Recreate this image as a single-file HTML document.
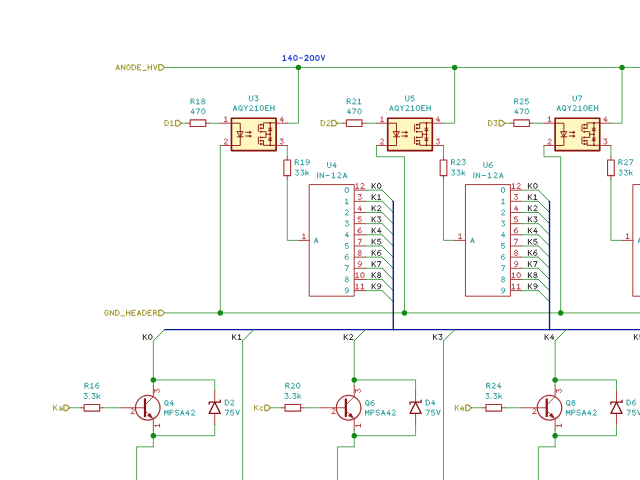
<!DOCTYPE html>
<html><head><meta charset="utf-8"><style>
html,body{margin:0;padding:0;background:#fff;width:640px;height:480px;overflow:hidden}
svg{display:block;will-change:transform}
</style></head><body>
<svg width="640" height="480" viewBox="0 0 640 480" stroke-linecap="round" stroke-linejoin="round">
<rect x="0" y="0" width="640" height="480" fill="#fff"/>
<line x1="164.5" y1="67.41" x2="640" y2="67.41" stroke="#288f28" stroke-width="0.8"/>
<polygon points="158.8,64.66 161.6,64.66 164.5,67.41 161.6,70.16 158.8,70.16" stroke="#9e9830" stroke-width="1.2" fill="none"/>
<path d="M116.10 69.81 L117.78 64.82 L119.46 69.81 M116.66 68.15 L118.90 68.15 M121.45 69.81 L121.45 64.82 L124.81 69.81 L124.81 64.82 M128.48 64.82 L129.57 65.23 L130.16 66.32 L130.16 68.31 L129.57 69.39 L128.48 69.81 L127.39 69.39 L126.80 68.31 L126.80 66.32 L127.39 65.23 L128.48 64.82 M132.15 64.82 L134.25 64.82 L135.51 66.07 L135.51 68.56 L134.25 69.81 L132.15 69.81 L132.15 64.82 M140.85 64.82 L137.49 64.82 L137.49 69.81 L140.85 69.81 M137.49 67.23 L139.85 67.23 M142.84 70.39 L146.20 70.39 M148.19 64.82 L148.19 69.81 M151.55 64.82 L151.55 69.81 M148.19 67.23 L151.55 67.23 M153.54 64.82 L155.22 69.81 L156.90 64.82" stroke="#9e9830" stroke-width="1.00" fill="none"/>
<line x1="164.5" y1="312.93" x2="640" y2="312.93" stroke="#288f28" stroke-width="0.8"/>
<polygon points="158.8,310.18 161.6,310.18 164.5,312.93 161.6,315.68 158.8,315.68" stroke="#9e9830" stroke-width="1.2" fill="none"/>
<path d="M108.26 311.34 L107.42 310.34 L105.91 310.34 L104.90 311.34 L104.90 314.33 L105.91 315.33 L107.25 315.33 L108.26 314.33 L108.26 313.00 L106.92 313.00 M110.30 315.33 L110.30 310.34 L113.66 315.33 L113.66 310.34 M115.71 310.34 L117.81 310.34 L119.07 311.59 L119.07 314.08 L117.81 315.33 L115.71 315.33 L115.71 310.34 M121.11 315.91 L124.47 315.91 M126.52 310.34 L126.52 315.33 M129.88 310.34 L129.88 315.33 M126.52 312.75 L129.88 312.75 M135.28 310.34 L131.92 310.34 L131.92 315.33 L135.28 315.33 M131.92 312.75 L134.27 312.75 M137.33 315.33 L139.01 310.34 L140.69 315.33 M137.89 313.67 L140.12 313.67 M142.73 310.34 L144.83 310.34 L146.09 311.59 L146.09 314.08 L144.83 315.33 L142.73 315.33 L142.73 310.34 M151.50 310.34 L148.14 310.34 L148.14 315.33 L151.50 315.33 M148.14 312.75 L150.49 312.75 M153.54 315.33 L153.54 310.34 L155.89 310.34 L156.90 311.34 L156.90 311.84 L155.89 312.83 L153.54 312.83 M155.39 312.83 L156.90 315.33" stroke="#9e9830" stroke-width="1.00" fill="none"/>
<path d="M283.22 56.41 L284.48 55.41 L284.48 60.40 M283.05 60.40 L285.91 60.40 M290.56 55.41 L288.29 58.82 L291.65 58.82 M290.81 57.32 L290.81 60.40 M295.46 55.41 L296.55 55.82 L297.14 56.91 L297.14 58.90 L296.55 59.98 L295.46 60.40 L294.37 59.98 L293.78 58.90 L293.78 56.91 L294.37 55.82 L295.46 55.41 M299.44 58.07 L302.47 58.07 M304.93 56.24 L305.77 55.41 L307.12 55.41 L307.96 56.24 L307.96 57.07 L304.77 60.40 L308.13 60.40 M311.94 55.41 L313.03 55.82 L313.62 56.91 L313.62 58.90 L313.03 59.98 L311.94 60.40 L310.85 59.98 L310.26 58.90 L310.26 56.91 L310.85 55.82 L311.94 55.41 M317.43 55.41 L318.52 55.82 L319.11 56.91 L319.11 58.90 L318.52 59.98 L317.43 60.40 L316.34 59.98 L315.75 58.90 L315.75 56.91 L316.34 55.82 L317.43 55.41 M321.24 55.41 L322.92 60.40 L324.60 55.41" stroke="#2a48d0" stroke-width="1.10" fill="none"/>
<polygon points="175.54,120.46 178.34,120.46 181.24,123.21 178.34,125.96 175.54,125.96" stroke="#9e9830" stroke-width="1.2" fill="none"/>
<path d="M164.96 120.62 L167.06 120.62 L168.32 121.87 L168.32 124.36 L167.06 125.61 L164.96 125.61 L164.96 120.62 M170.70 121.62 L171.96 120.62 L171.96 125.61 M170.53 125.61 L173.39 125.61" stroke="#9e9830" stroke-width="1.00" fill="none"/>
<line x1="181.24" y1="123.21" x2="186.82" y2="123.21" stroke="#288f28" stroke-width="0.8"/>
<line x1="186.81" y1="123.21" x2="190.18" y2="123.21" stroke="#b04040" stroke-width="1"/>
<line x1="205.78" y1="123.21" x2="209.15" y2="123.21" stroke="#b04040" stroke-width="1"/>
<rect x="190.18" y="119.86" width="15.6" height="6.7" stroke="#a83030" stroke-width="1.1" fill="none"/>
<path d="M190.98 103.90 L190.98 98.91 L193.33 98.91 L194.34 99.91 L194.34 100.41 L193.33 101.40 L190.98 101.40 M192.83 101.40 L194.34 103.90 M196.72 99.91 L197.98 98.91 L197.98 103.90 M196.55 103.90 L199.41 103.90 M202.63 101.32 L201.96 100.66 L201.96 99.57 L202.63 98.91 L203.97 98.91 L204.64 99.57 L204.64 100.66 L203.97 101.32 L202.63 101.32 L201.62 102.24 L201.62 103.07 L202.46 103.90 L204.14 103.90 L204.98 103.07 L204.98 102.24 L203.97 101.32" stroke="#36a0a0" stroke-width="1.00" fill="none"/>
<path d="M193.25 108.91 L190.98 112.32 L194.34 112.32 M193.50 110.82 L193.50 113.90 M196.30 108.91 L199.66 108.91 L197.39 113.90 M203.30 108.91 L204.39 109.32 L204.98 110.41 L204.98 112.40 L204.39 113.48 L203.30 113.90 L202.21 113.48 L201.62 112.40 L201.62 110.41 L202.21 109.32 L203.30 108.91" stroke="#36a0a0" stroke-width="1.00" fill="none"/>
<line x1="209.14" y1="123.21" x2="220.3" y2="123.21" stroke="#288f28" stroke-width="0.8"/>
<rect x="231.46" y="118.2" width="44.64" height="32.4" stroke="#8a1010" stroke-width="1.65" fill="#fff7c0"/>
<line x1="220.3" y1="123.21" x2="231.46" y2="123.21" stroke="#b04040" stroke-width="1"/>
<line x1="276.1" y1="123.21" x2="287.26" y2="123.21" stroke="#b04040" stroke-width="1"/>
<line x1="220.3" y1="145.53" x2="231.46" y2="145.53" stroke="#b04040" stroke-width="1"/>
<line x1="276.1" y1="145.53" x2="287.26" y2="145.53" stroke="#b04040" stroke-width="1"/>
<path d="M224.62 117.72 L225.88 116.72 L225.88 121.71 M224.45 121.71 L227.31 121.71" stroke="#bb4545" stroke-width="1.00" fill="none"/>
<path d="M224.37 139.87 L225.21 139.04 L226.55 139.04 L227.39 139.87 L227.39 140.70 L224.20 144.03 L227.56 144.03" stroke="#bb4545" stroke-width="1.00" fill="none"/>
<path d="M282.27 116.72 L280.00 120.13 L283.36 120.13 M282.52 118.63 L282.52 121.71" stroke="#bb4545" stroke-width="1.00" fill="none"/>
<path d="M280.17 139.04 L283.19 139.04 L281.51 141.12 L282.35 141.12 L283.28 141.95 L283.28 143.20 L282.35 144.03 L281.01 144.03 L280.08 143.20" stroke="#bb4545" stroke-width="1.00" fill="none"/>
<path d="M249.44 95.91 L249.44 99.90 L250.45 100.90 L251.79 100.90 L252.80 99.90 L252.80 95.91 M254.93 95.91 L257.95 95.91 L256.27 97.99 L257.11 97.99 L258.04 98.82 L258.04 100.07 L257.11 100.90 L255.77 100.90 L254.84 100.07" stroke="#36a0a0" stroke-width="1.00" fill="none"/>
<path d="M233.48 110.60 L235.16 105.61 L236.84 110.60 M234.04 108.94 L236.28 108.94 M240.48 105.61 L241.57 106.02 L242.16 107.11 L242.16 109.10 L241.57 110.18 L240.48 110.60 L239.39 110.18 L238.80 109.10 L238.80 107.11 L239.39 106.02 L240.48 105.61 M240.73 109.19 L242.33 111.02 M244.12 105.61 L245.80 108.10 L247.48 105.61 M245.80 108.10 L245.80 110.60 M249.61 106.44 L250.45 105.61 L251.79 105.61 L252.63 106.44 L252.63 107.27 L249.44 110.60 L252.80 110.60 M255.18 106.61 L256.44 105.61 L256.44 110.60 M255.01 110.60 L257.87 110.60 M261.76 105.61 L262.85 106.02 L263.44 107.11 L263.44 109.10 L262.85 110.18 L261.76 110.60 L260.67 110.18 L260.08 109.10 L260.08 107.11 L260.67 106.02 L261.76 105.61 M268.76 105.61 L265.40 105.61 L265.40 110.60 L268.76 110.60 M265.40 108.02 L267.75 108.02 M270.72 105.61 L270.72 110.60 M274.08 105.61 L274.08 110.60 M270.72 108.02 L274.08 108.02" stroke="#36a0a0" stroke-width="1.00" fill="none"/>
<polyline points="231.46,123.21 240.26,123.21 240.26,145.53 231.46,145.53" stroke="#8a1010" stroke-width="0.9" fill="none"/>
<polygon points="237.26,131.6 243.26,131.6 240.26,136.6" stroke="#8a1010" stroke-width="0.9" fill="none"/>
<line x1="237.26" y1="136.8" x2="243.26" y2="136.8" stroke="#8a1010" stroke-width="0.9"/>
<line x1="245.66" y1="132.3" x2="250.96" y2="132.3" stroke="#8a1010" stroke-width="0.9"/>
<polygon points="251.26,132.3 249.46,131.3 249.46,133.3" stroke="#8a1010" stroke-width="0.5" fill="#8a1010"/>
<line x1="245.66" y1="136" x2="250.96" y2="136" stroke="#8a1010" stroke-width="0.9"/>
<polygon points="251.26,136 249.46,135 249.46,137" stroke="#8a1010" stroke-width="0.5" fill="#8a1010"/>
<line x1="258.36" y1="124.7" x2="258.36" y2="131.3" stroke="#8a1010" stroke-width="0.9"/>
<line x1="258.36" y1="137" x2="258.36" y2="143.7" stroke="#8a1010" stroke-width="0.9"/>
<polyline points="260.56,124.7 263.46,124.7 263.46,122.9 276.1,122.9" stroke="#8a1010" stroke-width="0.9" fill="none"/>
<line x1="263.46" y1="124.7" x2="263.46" y2="128.3" stroke="#8a1010" stroke-width="0.9"/>
<line x1="260.56" y1="128.3" x2="263.46" y2="128.3" stroke="#8a1010" stroke-width="0.9"/>
<polyline points="260.56,131.7 266.06,131.7 266.06,137.4 260.56,137.4" stroke="#8a1010" stroke-width="0.9" fill="none"/>
<line x1="266.06" y1="134.3" x2="270.26" y2="134.3" stroke="#8a1010" stroke-width="0.9"/>
<line x1="260.56" y1="140.7" x2="263.46" y2="140.7" stroke="#8a1010" stroke-width="0.9"/>
<line x1="263.46" y1="140.7" x2="263.46" y2="144" stroke="#8a1010" stroke-width="0.9"/>
<polyline points="260.56,144 263.46,144 263.46,145.34 276.1,145.34" stroke="#8a1010" stroke-width="0.9" fill="none"/>
<line x1="270.26" y1="122.9" x2="270.26" y2="145.34" stroke="#8a1010" stroke-width="0.9"/>
<polygon points="268.56,130.9 271.96,130.9 270.26,128.4" stroke="#8a1010" stroke-width="0.5" fill="#8a1010"/>
<line x1="268.56" y1="128.2" x2="271.96" y2="128.2" stroke="#8a1010" stroke-width="0.8"/>
<polygon points="268.56,140.7 271.96,140.7 270.26,138.2" stroke="#8a1010" stroke-width="0.5" fill="#8a1010"/>
<line x1="268.56" y1="138" x2="271.96" y2="138" stroke="#8a1010" stroke-width="0.8"/>
<circle cx="260.56" cy="124.7" r="0.95" fill="#8a1010"/>
<circle cx="260.56" cy="128.3" r="0.95" fill="#8a1010"/>
<circle cx="260.56" cy="131.7" r="0.95" fill="#8a1010"/>
<circle cx="260.56" cy="137.4" r="0.95" fill="#8a1010"/>
<circle cx="260.56" cy="140.7" r="0.95" fill="#8a1010"/>
<circle cx="260.56" cy="144" r="0.95" fill="#8a1010"/>
<circle cx="270.26" cy="122.9" r="0.95" fill="#8a1010"/>
<circle cx="270.26" cy="134.3" r="0.95" fill="#8a1010"/>
<circle cx="270.26" cy="145.34" r="0.95" fill="#8a1010"/>
<polyline points="287.26,123.21 298.42,123.21 298.42,67.41" stroke="#288f28" stroke-width="0.8" fill="none"/>
<circle cx="298.42" cy="67.41" r="2.7" fill="#138a13"/>
<line x1="287.26" y1="145.53" x2="287.26" y2="156.69" stroke="#288f28" stroke-width="0.8"/>
<line x1="287.26" y1="156.68" x2="287.26" y2="160.05" stroke="#b04040" stroke-width="1"/>
<line x1="287.26" y1="175.65" x2="287.26" y2="179.02" stroke="#b04040" stroke-width="1"/>
<rect x="283.91" y="160.05" width="6.7" height="15.6" stroke="#a83030" stroke-width="1.1" fill="none"/>
<path d="M295.26 164.70 L295.26 159.71 L297.61 159.71 L298.62 160.71 L298.62 161.21 L297.61 162.20 L295.26 162.20 M297.11 162.20 L298.62 164.70 M301.00 160.71 L302.26 159.71 L302.26 164.70 M300.83 164.70 L303.69 164.70 M306.40 164.70 L307.58 164.70 L308.76 163.70 L309.26 162.20 L309.26 160.71 L308.25 159.71 L306.91 159.71 L305.90 160.71 L305.90 161.70 L306.91 162.54 L308.25 162.54 L309.26 161.70" stroke="#36a0a0" stroke-width="1.00" fill="none"/>
<path d="M295.43 170.11 L298.45 170.11 L296.77 172.19 L297.61 172.19 L298.54 173.02 L298.54 174.27 L297.61 175.10 L296.27 175.10 L295.34 174.27 M300.75 170.11 L303.77 170.11 L302.09 172.19 L302.93 172.19 L303.86 173.02 L303.86 174.27 L302.93 175.10 L301.59 175.10 L300.66 174.27 M305.90 170.11 L305.90 175.10 M305.90 173.60 L308.59 171.94 M306.91 172.94 L308.76 175.10" stroke="#36a0a0" stroke-width="1.00" fill="none"/>
<polyline points="287.26,179.01 287.26,240.39 298.42,240.39" stroke="#288f28" stroke-width="0.8" fill="none"/>
<line x1="220.3" y1="145.53" x2="220.3" y2="312.93" stroke="#288f28" stroke-width="0.8"/>
<circle cx="220.3" cy="312.93" r="2.7" fill="#138a13"/>
<rect x="309.58" y="184.59" width="44.64" height="111.6" stroke="#a02525" stroke-width="0.9" fill="none"/>
<line x1="298.42" y1="240.39" x2="309.58" y2="240.39" stroke="#b04040" stroke-width="1"/>
<path d="M302.74 234.65 L304.00 233.65 L304.00 238.64 M302.57 238.64 L305.43 238.64" stroke="#bb4545" stroke-width="1.00" fill="none"/>
<path d="M314.58 242.79 L316.26 237.80 L317.94 242.79 M315.14 241.13 L317.38 241.13" stroke="#36a0a0" stroke-width="1.00" fill="none"/>
<path d="M327.56 162.51 L327.56 166.50 L328.57 167.50 L329.91 167.50 L330.92 166.50 L330.92 162.51 M335.15 162.51 L332.88 165.92 L336.24 165.92 M335.40 164.42 L335.40 167.50" stroke="#36a0a0" stroke-width="1.00" fill="none"/>
<path d="M317.60 172.81 L317.60 177.80 M320.08 177.80 L320.08 172.81 L323.44 177.80 L323.44 172.81 M326.09 175.47 L329.11 175.47 M332.18 173.81 L333.44 172.81 L333.44 177.80 M332.01 177.80 L334.87 177.80 M337.77 173.64 L338.61 172.81 L339.95 172.81 L340.79 173.64 L340.79 174.47 L337.60 177.80 L340.96 177.80 M343.44 177.80 L345.12 172.81 L346.80 177.80 M344.00 176.14 L346.24 176.14" stroke="#36a0a0" stroke-width="1.00" fill="none"/>
<line x1="354.22" y1="190.17" x2="365.38" y2="190.17" stroke="#b04040" stroke-width="1"/>
<path d="M355.88 184.43 L357.14 183.43 L357.14 188.42 M355.71 188.42 L358.57 188.42 M360.95 184.26 L361.79 183.43 L363.13 183.43 L363.97 184.26 L363.97 185.09 L360.78 188.42 L364.14 188.42" stroke="#bb4545" stroke-width="1.00" fill="none"/>
<path d="M346.84 187.58 L347.93 187.99 L348.52 189.08 L348.52 191.07 L347.93 192.15 L346.84 192.57 L345.75 192.15 L345.16 191.07 L345.16 189.08 L345.75 187.99 L346.84 187.58" stroke="#36a0a0" stroke-width="1.00" fill="none"/>
<path d="M372.16 183.43 L372.16 188.42 M375.52 183.43 L372.16 186.76 M373.34 185.59 L375.52 188.42 M379.16 183.43 L380.25 183.84 L380.84 184.93 L380.84 186.92 L380.25 188.00 L379.16 188.42 L378.07 188.00 L377.48 186.92 L377.48 184.93 L378.07 183.84 L379.16 183.43" stroke="#303030" stroke-width="1.00" fill="none"/>
<line x1="365.38" y1="190.17" x2="382.12" y2="190.17" stroke="#288f28" stroke-width="0.8"/>
<line x1="382.12" y1="190.17" x2="393.28" y2="201.33" stroke="#288f28" stroke-width="1"/>
<line x1="354.22" y1="201.33" x2="365.38" y2="201.33" stroke="#b04040" stroke-width="1"/>
<path d="M358.29 194.59 L361.31 194.59 L359.63 196.67 L360.47 196.67 L361.40 197.50 L361.40 198.75 L360.47 199.58 L359.13 199.58 L358.20 198.75" stroke="#bb4545" stroke-width="1.00" fill="none"/>
<path d="M345.58 199.74 L346.84 198.74 L346.84 203.73 M345.41 203.73 L348.27 203.73" stroke="#36a0a0" stroke-width="1.00" fill="none"/>
<path d="M372.16 194.59 L372.16 199.58 M375.52 194.59 L372.16 197.92 M373.34 196.75 L375.52 199.58 M377.90 195.59 L379.16 194.59 L379.16 199.58 M377.73 199.58 L380.59 199.58" stroke="#303030" stroke-width="1.00" fill="none"/>
<line x1="365.38" y1="201.33" x2="382.12" y2="201.33" stroke="#288f28" stroke-width="0.8"/>
<line x1="382.12" y1="201.33" x2="393.28" y2="212.49" stroke="#288f28" stroke-width="1"/>
<line x1="354.22" y1="212.49" x2="365.38" y2="212.49" stroke="#b04040" stroke-width="1"/>
<path d="M360.39 205.75 L358.12 209.16 L361.48 209.16 M360.64 207.66 L360.64 210.74" stroke="#bb4545" stroke-width="1.00" fill="none"/>
<path d="M345.33 210.73 L346.17 209.90 L347.51 209.90 L348.35 210.73 L348.35 211.56 L345.16 214.89 L348.52 214.89" stroke="#36a0a0" stroke-width="1.00" fill="none"/>
<path d="M372.16 205.75 L372.16 210.74 M375.52 205.75 L372.16 209.08 M373.34 207.91 L375.52 210.74 M377.65 206.58 L378.49 205.75 L379.83 205.75 L380.67 206.58 L380.67 207.41 L377.48 210.74 L380.84 210.74" stroke="#303030" stroke-width="1.00" fill="none"/>
<line x1="365.38" y1="212.49" x2="382.12" y2="212.49" stroke="#288f28" stroke-width="0.8"/>
<line x1="382.12" y1="212.49" x2="393.28" y2="223.65" stroke="#288f28" stroke-width="1"/>
<line x1="354.22" y1="223.65" x2="365.38" y2="223.65" stroke="#b04040" stroke-width="1"/>
<path d="M361.14 216.91 L358.46 216.91 L358.20 219.24 L358.96 218.90 L360.47 218.90 L361.40 219.74 L361.40 221.07 L360.56 221.90 L359.04 221.90 L358.20 221.23" stroke="#bb4545" stroke-width="1.00" fill="none"/>
<path d="M345.33 221.06 L348.35 221.06 L346.67 223.14 L347.51 223.14 L348.44 223.97 L348.44 225.22 L347.51 226.05 L346.17 226.05 L345.24 225.22" stroke="#36a0a0" stroke-width="1.00" fill="none"/>
<path d="M372.16 216.91 L372.16 221.90 M375.52 216.91 L372.16 220.24 M373.34 219.07 L375.52 221.90 M377.65 216.91 L380.67 216.91 L378.99 218.99 L379.83 218.99 L380.76 219.82 L380.76 221.07 L379.83 221.90 L378.49 221.90 L377.56 221.07" stroke="#303030" stroke-width="1.00" fill="none"/>
<line x1="365.38" y1="223.65" x2="382.12" y2="223.65" stroke="#288f28" stroke-width="0.8"/>
<line x1="382.12" y1="223.65" x2="393.28" y2="234.81" stroke="#288f28" stroke-width="1"/>
<line x1="354.22" y1="234.81" x2="365.38" y2="234.81" stroke="#b04040" stroke-width="1"/>
<path d="M360.98 228.07 L359.80 228.07 L358.62 229.07 L358.12 230.56 L358.12 232.06 L359.13 233.06 L360.47 233.06 L361.48 232.06 L361.48 231.06 L360.47 230.23 L359.13 230.23 L358.12 231.06" stroke="#bb4545" stroke-width="1.00" fill="none"/>
<path d="M347.43 232.22 L345.16 235.63 L348.52 235.63 M347.68 234.13 L347.68 237.21" stroke="#36a0a0" stroke-width="1.00" fill="none"/>
<path d="M372.16 228.07 L372.16 233.06 M375.52 228.07 L372.16 231.40 M373.34 230.23 L375.52 233.06 M379.75 228.07 L377.48 231.48 L380.84 231.48 M380.00 229.98 L380.00 233.06" stroke="#303030" stroke-width="1.00" fill="none"/>
<line x1="365.38" y1="234.81" x2="382.12" y2="234.81" stroke="#288f28" stroke-width="0.8"/>
<line x1="382.12" y1="234.81" x2="393.28" y2="245.97" stroke="#288f28" stroke-width="1"/>
<line x1="354.22" y1="245.97" x2="365.38" y2="245.97" stroke="#b04040" stroke-width="1"/>
<path d="M358.12 239.23 L361.48 239.23 L359.21 244.22" stroke="#bb4545" stroke-width="1.00" fill="none"/>
<path d="M348.18 243.38 L345.50 243.38 L345.24 245.71 L346.00 245.37 L347.51 245.37 L348.44 246.21 L348.44 247.54 L347.60 248.37 L346.08 248.37 L345.24 247.70" stroke="#36a0a0" stroke-width="1.00" fill="none"/>
<path d="M372.16 239.23 L372.16 244.22 M375.52 239.23 L372.16 242.56 M373.34 241.39 L375.52 244.22 M380.50 239.23 L377.82 239.23 L377.56 241.56 L378.32 241.22 L379.83 241.22 L380.76 242.06 L380.76 243.39 L379.92 244.22 L378.40 244.22 L377.56 243.55" stroke="#303030" stroke-width="1.00" fill="none"/>
<line x1="365.38" y1="245.97" x2="382.12" y2="245.97" stroke="#288f28" stroke-width="0.8"/>
<line x1="382.12" y1="245.97" x2="393.28" y2="257.13" stroke="#288f28" stroke-width="1"/>
<line x1="354.22" y1="257.13" x2="365.38" y2="257.13" stroke="#b04040" stroke-width="1"/>
<path d="M359.13 252.80 L358.46 252.14 L358.46 251.05 L359.13 250.39 L360.47 250.39 L361.14 251.05 L361.14 252.14 L360.47 252.80 L359.13 252.80 L358.12 253.72 L358.12 254.55 L358.96 255.38 L360.64 255.38 L361.48 254.55 L361.48 253.72 L360.47 252.80" stroke="#bb4545" stroke-width="1.00" fill="none"/>
<path d="M348.02 254.54 L346.84 254.54 L345.66 255.54 L345.16 257.03 L345.16 258.53 L346.17 259.53 L347.51 259.53 L348.52 258.53 L348.52 257.53 L347.51 256.70 L346.17 256.70 L345.16 257.53" stroke="#36a0a0" stroke-width="1.00" fill="none"/>
<path d="M372.16 250.39 L372.16 255.38 M375.52 250.39 L372.16 253.72 M373.34 252.55 L375.52 255.38 M380.34 250.39 L379.16 250.39 L377.98 251.39 L377.48 252.88 L377.48 254.38 L378.49 255.38 L379.83 255.38 L380.84 254.38 L380.84 253.38 L379.83 252.55 L378.49 252.55 L377.48 253.38" stroke="#303030" stroke-width="1.00" fill="none"/>
<line x1="365.38" y1="257.13" x2="382.12" y2="257.13" stroke="#288f28" stroke-width="0.8"/>
<line x1="382.12" y1="257.13" x2="393.28" y2="268.29" stroke="#288f28" stroke-width="1"/>
<line x1="354.22" y1="268.29" x2="365.38" y2="268.29" stroke="#b04040" stroke-width="1"/>
<path d="M358.62 266.54 L359.80 266.54 L360.98 265.54 L361.48 264.04 L361.48 262.55 L360.47 261.55 L359.13 261.55 L358.12 262.55 L358.12 263.54 L359.13 264.38 L360.47 264.38 L361.48 263.54" stroke="#bb4545" stroke-width="1.00" fill="none"/>
<path d="M345.16 265.70 L348.52 265.70 L346.25 270.69" stroke="#36a0a0" stroke-width="1.00" fill="none"/>
<path d="M372.16 261.55 L372.16 266.54 M375.52 261.55 L372.16 264.88 M373.34 263.71 L375.52 266.54 M377.48 261.55 L380.84 261.55 L378.57 266.54" stroke="#303030" stroke-width="1.00" fill="none"/>
<line x1="365.38" y1="268.29" x2="382.12" y2="268.29" stroke="#288f28" stroke-width="0.8"/>
<line x1="382.12" y1="268.29" x2="393.28" y2="279.45" stroke="#288f28" stroke-width="1"/>
<line x1="354.22" y1="279.45" x2="365.38" y2="279.45" stroke="#b04040" stroke-width="1"/>
<path d="M355.88 273.71 L357.14 272.71 L357.14 277.70 M355.71 277.70 L358.57 277.70 M362.46 272.71 L363.55 273.12 L364.14 274.21 L364.14 276.20 L363.55 277.28 L362.46 277.70 L361.37 277.28 L360.78 276.20 L360.78 274.21 L361.37 273.12 L362.46 272.71" stroke="#bb4545" stroke-width="1.00" fill="none"/>
<path d="M346.17 279.27 L345.50 278.61 L345.50 277.52 L346.17 276.86 L347.51 276.86 L348.18 277.52 L348.18 278.61 L347.51 279.27 L346.17 279.27 L345.16 280.19 L345.16 281.02 L346.00 281.85 L347.68 281.85 L348.52 281.02 L348.52 280.19 L347.51 279.27" stroke="#36a0a0" stroke-width="1.00" fill="none"/>
<path d="M372.16 272.71 L372.16 277.70 M375.52 272.71 L372.16 276.04 M373.34 274.87 L375.52 277.70 M378.49 275.12 L377.82 274.46 L377.82 273.37 L378.49 272.71 L379.83 272.71 L380.50 273.37 L380.50 274.46 L379.83 275.12 L378.49 275.12 L377.48 276.04 L377.48 276.87 L378.32 277.70 L380.00 277.70 L380.84 276.87 L380.84 276.04 L379.83 275.12" stroke="#303030" stroke-width="1.00" fill="none"/>
<line x1="365.38" y1="279.45" x2="382.12" y2="279.45" stroke="#288f28" stroke-width="0.8"/>
<line x1="382.12" y1="279.45" x2="393.28" y2="290.61" stroke="#288f28" stroke-width="1"/>
<line x1="354.22" y1="290.61" x2="365.38" y2="290.61" stroke="#b04040" stroke-width="1"/>
<path d="M355.88 284.87 L357.14 283.87 L357.14 288.86 M355.71 288.86 L358.57 288.86 M361.20 284.87 L362.46 283.87 L362.46 288.86 M361.03 288.86 L363.89 288.86" stroke="#bb4545" stroke-width="1.00" fill="none"/>
<path d="M345.66 293.01 L346.84 293.01 L348.02 292.01 L348.52 290.51 L348.52 289.02 L347.51 288.02 L346.17 288.02 L345.16 289.02 L345.16 290.01 L346.17 290.85 L347.51 290.85 L348.52 290.01" stroke="#36a0a0" stroke-width="1.00" fill="none"/>
<path d="M372.16 283.87 L372.16 288.86 M375.52 283.87 L372.16 287.20 M373.34 286.03 L375.52 288.86 M377.98 288.86 L379.16 288.86 L380.34 287.86 L380.84 286.36 L380.84 284.87 L379.83 283.87 L378.49 283.87 L377.48 284.87 L377.48 285.86 L378.49 286.70 L379.83 286.70 L380.84 285.86" stroke="#303030" stroke-width="1.00" fill="none"/>
<line x1="365.38" y1="290.61" x2="382.12" y2="290.61" stroke="#288f28" stroke-width="0.8"/>
<line x1="382.12" y1="290.61" x2="393.28" y2="301.77" stroke="#288f28" stroke-width="1"/>
<line x1="393.28" y1="201.33" x2="393.28" y2="329.67" stroke="#001aa0" stroke-width="1.35"/>
<polygon points="331.78,120.46 334.58,120.46 337.48,123.21 334.58,125.96 331.78,125.96" stroke="#9e9830" stroke-width="1.2" fill="none"/>
<path d="M321.20 120.62 L323.30 120.62 L324.56 121.87 L324.56 124.36 L323.30 125.61 L321.20 125.61 L321.20 120.62 M326.69 121.45 L327.53 120.62 L328.87 120.62 L329.71 121.45 L329.71 122.28 L326.52 125.61 L329.88 125.61" stroke="#9e9830" stroke-width="1.00" fill="none"/>
<line x1="337.48" y1="123.21" x2="343.06" y2="123.21" stroke="#288f28" stroke-width="0.8"/>
<line x1="343.05" y1="123.21" x2="346.42" y2="123.21" stroke="#b04040" stroke-width="1"/>
<line x1="362.02" y1="123.21" x2="365.39" y2="123.21" stroke="#b04040" stroke-width="1"/>
<rect x="346.42" y="119.86" width="15.6" height="6.7" stroke="#a83030" stroke-width="1.1" fill="none"/>
<path d="M347.22 103.90 L347.22 98.91 L349.57 98.91 L350.58 99.91 L350.58 100.41 L349.57 101.40 L347.22 101.40 M349.07 101.40 L350.58 103.90 M352.71 99.74 L353.55 98.91 L354.89 98.91 L355.73 99.74 L355.73 100.57 L352.54 103.90 L355.90 103.90 M358.28 99.91 L359.54 98.91 L359.54 103.90 M358.11 103.90 L360.97 103.90" stroke="#36a0a0" stroke-width="1.00" fill="none"/>
<path d="M349.49 108.91 L347.22 112.32 L350.58 112.32 M349.74 110.82 L349.74 113.90 M352.54 108.91 L355.90 108.91 L353.63 113.90 M359.54 108.91 L360.63 109.32 L361.22 110.41 L361.22 112.40 L360.63 113.48 L359.54 113.90 L358.45 113.48 L357.86 112.40 L357.86 110.41 L358.45 109.32 L359.54 108.91" stroke="#36a0a0" stroke-width="1.00" fill="none"/>
<line x1="365.38" y1="123.21" x2="376.54" y2="123.21" stroke="#288f28" stroke-width="0.8"/>
<rect x="387.7" y="118.2" width="44.64" height="32.4" stroke="#8a1010" stroke-width="1.65" fill="#fff7c0"/>
<line x1="376.54" y1="123.21" x2="387.7" y2="123.21" stroke="#b04040" stroke-width="1"/>
<line x1="432.34" y1="123.21" x2="443.5" y2="123.21" stroke="#b04040" stroke-width="1"/>
<line x1="376.54" y1="145.53" x2="387.7" y2="145.53" stroke="#b04040" stroke-width="1"/>
<line x1="432.34" y1="145.53" x2="443.5" y2="145.53" stroke="#b04040" stroke-width="1"/>
<path d="M380.86 117.72 L382.12 116.72 L382.12 121.71 M380.69 121.71 L383.55 121.71" stroke="#bb4545" stroke-width="1.00" fill="none"/>
<path d="M380.61 139.87 L381.45 139.04 L382.79 139.04 L383.63 139.87 L383.63 140.70 L380.44 144.03 L383.80 144.03" stroke="#bb4545" stroke-width="1.00" fill="none"/>
<path d="M438.51 116.72 L436.24 120.13 L439.60 120.13 M438.76 118.63 L438.76 121.71" stroke="#bb4545" stroke-width="1.00" fill="none"/>
<path d="M436.41 139.04 L439.43 139.04 L437.75 141.12 L438.59 141.12 L439.52 141.95 L439.52 143.20 L438.59 144.03 L437.25 144.03 L436.32 143.20" stroke="#bb4545" stroke-width="1.00" fill="none"/>
<path d="M405.68 95.91 L405.68 99.90 L406.69 100.90 L408.03 100.90 L409.04 99.90 L409.04 95.91 M414.02 95.91 L411.34 95.91 L411.08 98.24 L411.84 97.90 L413.35 97.90 L414.28 98.74 L414.28 100.07 L413.44 100.90 L411.92 100.90 L411.08 100.23" stroke="#36a0a0" stroke-width="1.00" fill="none"/>
<path d="M389.72 110.60 L391.40 105.61 L393.08 110.60 M390.28 108.94 L392.52 108.94 M396.72 105.61 L397.81 106.02 L398.40 107.11 L398.40 109.10 L397.81 110.18 L396.72 110.60 L395.63 110.18 L395.04 109.10 L395.04 107.11 L395.63 106.02 L396.72 105.61 M396.97 109.19 L398.57 111.02 M400.36 105.61 L402.04 108.10 L403.72 105.61 M402.04 108.10 L402.04 110.60 M405.85 106.44 L406.69 105.61 L408.03 105.61 L408.87 106.44 L408.87 107.27 L405.68 110.60 L409.04 110.60 M411.42 106.61 L412.68 105.61 L412.68 110.60 M411.25 110.60 L414.11 110.60 M418.00 105.61 L419.09 106.02 L419.68 107.11 L419.68 109.10 L419.09 110.18 L418.00 110.60 L416.91 110.18 L416.32 109.10 L416.32 107.11 L416.91 106.02 L418.00 105.61 M425.00 105.61 L421.64 105.61 L421.64 110.60 L425.00 110.60 M421.64 108.02 L423.99 108.02 M426.96 105.61 L426.96 110.60 M430.32 105.61 L430.32 110.60 M426.96 108.02 L430.32 108.02" stroke="#36a0a0" stroke-width="1.00" fill="none"/>
<polyline points="387.7,123.21 396.5,123.21 396.5,145.53 387.7,145.53" stroke="#8a1010" stroke-width="0.9" fill="none"/>
<polygon points="393.5,131.6 399.5,131.6 396.5,136.6" stroke="#8a1010" stroke-width="0.9" fill="none"/>
<line x1="393.5" y1="136.8" x2="399.5" y2="136.8" stroke="#8a1010" stroke-width="0.9"/>
<line x1="401.9" y1="132.3" x2="407.2" y2="132.3" stroke="#8a1010" stroke-width="0.9"/>
<polygon points="407.5,132.3 405.7,131.3 405.7,133.3" stroke="#8a1010" stroke-width="0.5" fill="#8a1010"/>
<line x1="401.9" y1="136" x2="407.2" y2="136" stroke="#8a1010" stroke-width="0.9"/>
<polygon points="407.5,136 405.7,135 405.7,137" stroke="#8a1010" stroke-width="0.5" fill="#8a1010"/>
<line x1="414.6" y1="124.7" x2="414.6" y2="131.3" stroke="#8a1010" stroke-width="0.9"/>
<line x1="414.6" y1="137" x2="414.6" y2="143.7" stroke="#8a1010" stroke-width="0.9"/>
<polyline points="416.8,124.7 419.7,124.7 419.7,122.9 432.34,122.9" stroke="#8a1010" stroke-width="0.9" fill="none"/>
<line x1="419.7" y1="124.7" x2="419.7" y2="128.3" stroke="#8a1010" stroke-width="0.9"/>
<line x1="416.8" y1="128.3" x2="419.7" y2="128.3" stroke="#8a1010" stroke-width="0.9"/>
<polyline points="416.8,131.7 422.3,131.7 422.3,137.4 416.8,137.4" stroke="#8a1010" stroke-width="0.9" fill="none"/>
<line x1="422.3" y1="134.3" x2="426.5" y2="134.3" stroke="#8a1010" stroke-width="0.9"/>
<line x1="416.8" y1="140.7" x2="419.7" y2="140.7" stroke="#8a1010" stroke-width="0.9"/>
<line x1="419.7" y1="140.7" x2="419.7" y2="144" stroke="#8a1010" stroke-width="0.9"/>
<polyline points="416.8,144 419.7,144 419.7,145.34 432.34,145.34" stroke="#8a1010" stroke-width="0.9" fill="none"/>
<line x1="426.5" y1="122.9" x2="426.5" y2="145.34" stroke="#8a1010" stroke-width="0.9"/>
<polygon points="424.8,130.9 428.2,130.9 426.5,128.4" stroke="#8a1010" stroke-width="0.5" fill="#8a1010"/>
<line x1="424.8" y1="128.2" x2="428.2" y2="128.2" stroke="#8a1010" stroke-width="0.8"/>
<polygon points="424.8,140.7 428.2,140.7 426.5,138.2" stroke="#8a1010" stroke-width="0.5" fill="#8a1010"/>
<line x1="424.8" y1="138" x2="428.2" y2="138" stroke="#8a1010" stroke-width="0.8"/>
<circle cx="416.8" cy="124.7" r="0.95" fill="#8a1010"/>
<circle cx="416.8" cy="128.3" r="0.95" fill="#8a1010"/>
<circle cx="416.8" cy="131.7" r="0.95" fill="#8a1010"/>
<circle cx="416.8" cy="137.4" r="0.95" fill="#8a1010"/>
<circle cx="416.8" cy="140.7" r="0.95" fill="#8a1010"/>
<circle cx="416.8" cy="144" r="0.95" fill="#8a1010"/>
<circle cx="426.5" cy="122.9" r="0.95" fill="#8a1010"/>
<circle cx="426.5" cy="134.3" r="0.95" fill="#8a1010"/>
<circle cx="426.5" cy="145.34" r="0.95" fill="#8a1010"/>
<polyline points="443.5,123.21 454.66,123.21 454.66,67.41" stroke="#288f28" stroke-width="0.8" fill="none"/>
<circle cx="454.66" cy="67.41" r="2.7" fill="#138a13"/>
<line x1="443.5" y1="145.53" x2="443.5" y2="156.69" stroke="#288f28" stroke-width="0.8"/>
<line x1="443.5" y1="156.68" x2="443.5" y2="160.05" stroke="#b04040" stroke-width="1"/>
<line x1="443.5" y1="175.65" x2="443.5" y2="179.02" stroke="#b04040" stroke-width="1"/>
<rect x="440.15" y="160.05" width="6.7" height="15.6" stroke="#a83030" stroke-width="1.1" fill="none"/>
<path d="M451.50 164.70 L451.50 159.71 L453.85 159.71 L454.86 160.71 L454.86 161.21 L453.85 162.20 L451.50 162.20 M453.35 162.20 L454.86 164.70 M456.99 160.54 L457.83 159.71 L459.17 159.71 L460.01 160.54 L460.01 161.37 L456.82 164.70 L460.18 164.70 M462.31 159.71 L465.33 159.71 L463.65 161.79 L464.49 161.79 L465.42 162.62 L465.42 163.87 L464.49 164.70 L463.15 164.70 L462.22 163.87" stroke="#36a0a0" stroke-width="1.00" fill="none"/>
<path d="M451.67 170.11 L454.69 170.11 L453.01 172.19 L453.85 172.19 L454.78 173.02 L454.78 174.27 L453.85 175.10 L452.51 175.10 L451.58 174.27 M456.99 170.11 L460.01 170.11 L458.33 172.19 L459.17 172.19 L460.10 173.02 L460.10 174.27 L459.17 175.10 L457.83 175.10 L456.90 174.27 M462.14 170.11 L462.14 175.10 M462.14 173.60 L464.83 171.94 M463.15 172.94 L465.00 175.10" stroke="#36a0a0" stroke-width="1.00" fill="none"/>
<polyline points="443.5,179.01 443.5,240.39 454.66,240.39" stroke="#288f28" stroke-width="0.8" fill="none"/>
<polyline points="376.54,145.53 376.54,156.69 404.44,156.69 404.44,312.93" stroke="#288f28" stroke-width="0.8" fill="none"/>
<circle cx="404.44" cy="312.93" r="2.7" fill="#138a13"/>
<rect x="465.82" y="184.59" width="44.64" height="111.6" stroke="#a02525" stroke-width="0.9" fill="none"/>
<line x1="454.66" y1="240.39" x2="465.82" y2="240.39" stroke="#b04040" stroke-width="1"/>
<path d="M458.98 234.65 L460.24 233.65 L460.24 238.64 M458.81 238.64 L461.67 238.64" stroke="#bb4545" stroke-width="1.00" fill="none"/>
<path d="M470.82 242.79 L472.50 237.80 L474.18 242.79 M471.38 241.13 L473.62 241.13" stroke="#36a0a0" stroke-width="1.00" fill="none"/>
<path d="M483.80 162.51 L483.80 166.50 L484.81 167.50 L486.15 167.50 L487.16 166.50 L487.16 162.51 M491.98 162.51 L490.80 162.51 L489.62 163.51 L489.12 165.00 L489.12 166.50 L490.13 167.50 L491.47 167.50 L492.48 166.50 L492.48 165.50 L491.47 164.67 L490.13 164.67 L489.12 165.50" stroke="#36a0a0" stroke-width="1.00" fill="none"/>
<path d="M473.84 172.81 L473.84 177.80 M476.32 177.80 L476.32 172.81 L479.68 177.80 L479.68 172.81 M482.33 175.47 L485.35 175.47 M488.42 173.81 L489.68 172.81 L489.68 177.80 M488.25 177.80 L491.11 177.80 M494.01 173.64 L494.85 172.81 L496.19 172.81 L497.03 173.64 L497.03 174.47 L493.84 177.80 L497.20 177.80 M499.68 177.80 L501.36 172.81 L503.04 177.80 M500.24 176.14 L502.48 176.14" stroke="#36a0a0" stroke-width="1.00" fill="none"/>
<line x1="510.46" y1="190.17" x2="521.62" y2="190.17" stroke="#b04040" stroke-width="1"/>
<path d="M512.12 184.43 L513.38 183.43 L513.38 188.42 M511.95 188.42 L514.81 188.42 M517.19 184.26 L518.03 183.43 L519.37 183.43 L520.21 184.26 L520.21 185.09 L517.02 188.42 L520.38 188.42" stroke="#bb4545" stroke-width="1.00" fill="none"/>
<path d="M503.08 187.58 L504.17 187.99 L504.76 189.08 L504.76 191.07 L504.17 192.15 L503.08 192.57 L501.99 192.15 L501.40 191.07 L501.40 189.08 L501.99 187.99 L503.08 187.58" stroke="#36a0a0" stroke-width="1.00" fill="none"/>
<path d="M528.40 183.43 L528.40 188.42 M531.76 183.43 L528.40 186.76 M529.58 185.59 L531.76 188.42 M535.40 183.43 L536.49 183.84 L537.08 184.93 L537.08 186.92 L536.49 188.00 L535.40 188.42 L534.31 188.00 L533.72 186.92 L533.72 184.93 L534.31 183.84 L535.40 183.43" stroke="#303030" stroke-width="1.00" fill="none"/>
<line x1="521.62" y1="190.17" x2="538.36" y2="190.17" stroke="#288f28" stroke-width="0.8"/>
<line x1="538.36" y1="190.17" x2="549.52" y2="201.33" stroke="#288f28" stroke-width="1"/>
<line x1="510.46" y1="201.33" x2="521.62" y2="201.33" stroke="#b04040" stroke-width="1"/>
<path d="M514.53 194.59 L517.55 194.59 L515.87 196.67 L516.71 196.67 L517.64 197.50 L517.64 198.75 L516.71 199.58 L515.37 199.58 L514.44 198.75" stroke="#bb4545" stroke-width="1.00" fill="none"/>
<path d="M501.82 199.74 L503.08 198.74 L503.08 203.73 M501.65 203.73 L504.51 203.73" stroke="#36a0a0" stroke-width="1.00" fill="none"/>
<path d="M528.40 194.59 L528.40 199.58 M531.76 194.59 L528.40 197.92 M529.58 196.75 L531.76 199.58 M534.14 195.59 L535.40 194.59 L535.40 199.58 M533.97 199.58 L536.83 199.58" stroke="#303030" stroke-width="1.00" fill="none"/>
<line x1="521.62" y1="201.33" x2="538.36" y2="201.33" stroke="#288f28" stroke-width="0.8"/>
<line x1="538.36" y1="201.33" x2="549.52" y2="212.49" stroke="#288f28" stroke-width="1"/>
<line x1="510.46" y1="212.49" x2="521.62" y2="212.49" stroke="#b04040" stroke-width="1"/>
<path d="M516.63 205.75 L514.36 209.16 L517.72 209.16 M516.88 207.66 L516.88 210.74" stroke="#bb4545" stroke-width="1.00" fill="none"/>
<path d="M501.57 210.73 L502.41 209.90 L503.75 209.90 L504.59 210.73 L504.59 211.56 L501.40 214.89 L504.76 214.89" stroke="#36a0a0" stroke-width="1.00" fill="none"/>
<path d="M528.40 205.75 L528.40 210.74 M531.76 205.75 L528.40 209.08 M529.58 207.91 L531.76 210.74 M533.89 206.58 L534.73 205.75 L536.07 205.75 L536.91 206.58 L536.91 207.41 L533.72 210.74 L537.08 210.74" stroke="#303030" stroke-width="1.00" fill="none"/>
<line x1="521.62" y1="212.49" x2="538.36" y2="212.49" stroke="#288f28" stroke-width="0.8"/>
<line x1="538.36" y1="212.49" x2="549.52" y2="223.65" stroke="#288f28" stroke-width="1"/>
<line x1="510.46" y1="223.65" x2="521.62" y2="223.65" stroke="#b04040" stroke-width="1"/>
<path d="M517.38 216.91 L514.70 216.91 L514.44 219.24 L515.20 218.90 L516.71 218.90 L517.64 219.74 L517.64 221.07 L516.80 221.90 L515.28 221.90 L514.44 221.23" stroke="#bb4545" stroke-width="1.00" fill="none"/>
<path d="M501.57 221.06 L504.59 221.06 L502.91 223.14 L503.75 223.14 L504.68 223.97 L504.68 225.22 L503.75 226.05 L502.41 226.05 L501.48 225.22" stroke="#36a0a0" stroke-width="1.00" fill="none"/>
<path d="M528.40 216.91 L528.40 221.90 M531.76 216.91 L528.40 220.24 M529.58 219.07 L531.76 221.90 M533.89 216.91 L536.91 216.91 L535.23 218.99 L536.07 218.99 L537.00 219.82 L537.00 221.07 L536.07 221.90 L534.73 221.90 L533.80 221.07" stroke="#303030" stroke-width="1.00" fill="none"/>
<line x1="521.62" y1="223.65" x2="538.36" y2="223.65" stroke="#288f28" stroke-width="0.8"/>
<line x1="538.36" y1="223.65" x2="549.52" y2="234.81" stroke="#288f28" stroke-width="1"/>
<line x1="510.46" y1="234.81" x2="521.62" y2="234.81" stroke="#b04040" stroke-width="1"/>
<path d="M517.22 228.07 L516.04 228.07 L514.86 229.07 L514.36 230.56 L514.36 232.06 L515.37 233.06 L516.71 233.06 L517.72 232.06 L517.72 231.06 L516.71 230.23 L515.37 230.23 L514.36 231.06" stroke="#bb4545" stroke-width="1.00" fill="none"/>
<path d="M503.67 232.22 L501.40 235.63 L504.76 235.63 M503.92 234.13 L503.92 237.21" stroke="#36a0a0" stroke-width="1.00" fill="none"/>
<path d="M528.40 228.07 L528.40 233.06 M531.76 228.07 L528.40 231.40 M529.58 230.23 L531.76 233.06 M535.99 228.07 L533.72 231.48 L537.08 231.48 M536.24 229.98 L536.24 233.06" stroke="#303030" stroke-width="1.00" fill="none"/>
<line x1="521.62" y1="234.81" x2="538.36" y2="234.81" stroke="#288f28" stroke-width="0.8"/>
<line x1="538.36" y1="234.81" x2="549.52" y2="245.97" stroke="#288f28" stroke-width="1"/>
<line x1="510.46" y1="245.97" x2="521.62" y2="245.97" stroke="#b04040" stroke-width="1"/>
<path d="M514.36 239.23 L517.72 239.23 L515.45 244.22" stroke="#bb4545" stroke-width="1.00" fill="none"/>
<path d="M504.42 243.38 L501.74 243.38 L501.48 245.71 L502.24 245.37 L503.75 245.37 L504.68 246.21 L504.68 247.54 L503.84 248.37 L502.32 248.37 L501.48 247.70" stroke="#36a0a0" stroke-width="1.00" fill="none"/>
<path d="M528.40 239.23 L528.40 244.22 M531.76 239.23 L528.40 242.56 M529.58 241.39 L531.76 244.22 M536.74 239.23 L534.06 239.23 L533.80 241.56 L534.56 241.22 L536.07 241.22 L537.00 242.06 L537.00 243.39 L536.16 244.22 L534.64 244.22 L533.80 243.55" stroke="#303030" stroke-width="1.00" fill="none"/>
<line x1="521.62" y1="245.97" x2="538.36" y2="245.97" stroke="#288f28" stroke-width="0.8"/>
<line x1="538.36" y1="245.97" x2="549.52" y2="257.13" stroke="#288f28" stroke-width="1"/>
<line x1="510.46" y1="257.13" x2="521.62" y2="257.13" stroke="#b04040" stroke-width="1"/>
<path d="M515.37 252.80 L514.70 252.14 L514.70 251.05 L515.37 250.39 L516.71 250.39 L517.38 251.05 L517.38 252.14 L516.71 252.80 L515.37 252.80 L514.36 253.72 L514.36 254.55 L515.20 255.38 L516.88 255.38 L517.72 254.55 L517.72 253.72 L516.71 252.80" stroke="#bb4545" stroke-width="1.00" fill="none"/>
<path d="M504.26 254.54 L503.08 254.54 L501.90 255.54 L501.40 257.03 L501.40 258.53 L502.41 259.53 L503.75 259.53 L504.76 258.53 L504.76 257.53 L503.75 256.70 L502.41 256.70 L501.40 257.53" stroke="#36a0a0" stroke-width="1.00" fill="none"/>
<path d="M528.40 250.39 L528.40 255.38 M531.76 250.39 L528.40 253.72 M529.58 252.55 L531.76 255.38 M536.58 250.39 L535.40 250.39 L534.22 251.39 L533.72 252.88 L533.72 254.38 L534.73 255.38 L536.07 255.38 L537.08 254.38 L537.08 253.38 L536.07 252.55 L534.73 252.55 L533.72 253.38" stroke="#303030" stroke-width="1.00" fill="none"/>
<line x1="521.62" y1="257.13" x2="538.36" y2="257.13" stroke="#288f28" stroke-width="0.8"/>
<line x1="538.36" y1="257.13" x2="549.52" y2="268.29" stroke="#288f28" stroke-width="1"/>
<line x1="510.46" y1="268.29" x2="521.62" y2="268.29" stroke="#b04040" stroke-width="1"/>
<path d="M514.86 266.54 L516.04 266.54 L517.22 265.54 L517.72 264.04 L517.72 262.55 L516.71 261.55 L515.37 261.55 L514.36 262.55 L514.36 263.54 L515.37 264.38 L516.71 264.38 L517.72 263.54" stroke="#bb4545" stroke-width="1.00" fill="none"/>
<path d="M501.40 265.70 L504.76 265.70 L502.49 270.69" stroke="#36a0a0" stroke-width="1.00" fill="none"/>
<path d="M528.40 261.55 L528.40 266.54 M531.76 261.55 L528.40 264.88 M529.58 263.71 L531.76 266.54 M533.72 261.55 L537.08 261.55 L534.81 266.54" stroke="#303030" stroke-width="1.00" fill="none"/>
<line x1="521.62" y1="268.29" x2="538.36" y2="268.29" stroke="#288f28" stroke-width="0.8"/>
<line x1="538.36" y1="268.29" x2="549.52" y2="279.45" stroke="#288f28" stroke-width="1"/>
<line x1="510.46" y1="279.45" x2="521.62" y2="279.45" stroke="#b04040" stroke-width="1"/>
<path d="M512.12 273.71 L513.38 272.71 L513.38 277.70 M511.95 277.70 L514.81 277.70 M518.70 272.71 L519.79 273.12 L520.38 274.21 L520.38 276.20 L519.79 277.28 L518.70 277.70 L517.61 277.28 L517.02 276.20 L517.02 274.21 L517.61 273.12 L518.70 272.71" stroke="#bb4545" stroke-width="1.00" fill="none"/>
<path d="M502.41 279.27 L501.74 278.61 L501.74 277.52 L502.41 276.86 L503.75 276.86 L504.42 277.52 L504.42 278.61 L503.75 279.27 L502.41 279.27 L501.40 280.19 L501.40 281.02 L502.24 281.85 L503.92 281.85 L504.76 281.02 L504.76 280.19 L503.75 279.27" stroke="#36a0a0" stroke-width="1.00" fill="none"/>
<path d="M528.40 272.71 L528.40 277.70 M531.76 272.71 L528.40 276.04 M529.58 274.87 L531.76 277.70 M534.73 275.12 L534.06 274.46 L534.06 273.37 L534.73 272.71 L536.07 272.71 L536.74 273.37 L536.74 274.46 L536.07 275.12 L534.73 275.12 L533.72 276.04 L533.72 276.87 L534.56 277.70 L536.24 277.70 L537.08 276.87 L537.08 276.04 L536.07 275.12" stroke="#303030" stroke-width="1.00" fill="none"/>
<line x1="521.62" y1="279.45" x2="538.36" y2="279.45" stroke="#288f28" stroke-width="0.8"/>
<line x1="538.36" y1="279.45" x2="549.52" y2="290.61" stroke="#288f28" stroke-width="1"/>
<line x1="510.46" y1="290.61" x2="521.62" y2="290.61" stroke="#b04040" stroke-width="1"/>
<path d="M512.12 284.87 L513.38 283.87 L513.38 288.86 M511.95 288.86 L514.81 288.86 M517.44 284.87 L518.70 283.87 L518.70 288.86 M517.27 288.86 L520.13 288.86" stroke="#bb4545" stroke-width="1.00" fill="none"/>
<path d="M501.90 293.01 L503.08 293.01 L504.26 292.01 L504.76 290.51 L504.76 289.02 L503.75 288.02 L502.41 288.02 L501.40 289.02 L501.40 290.01 L502.41 290.85 L503.75 290.85 L504.76 290.01" stroke="#36a0a0" stroke-width="1.00" fill="none"/>
<path d="M528.40 283.87 L528.40 288.86 M531.76 283.87 L528.40 287.20 M529.58 286.03 L531.76 288.86 M534.22 288.86 L535.40 288.86 L536.58 287.86 L537.08 286.36 L537.08 284.87 L536.07 283.87 L534.73 283.87 L533.72 284.87 L533.72 285.86 L534.73 286.70 L536.07 286.70 L537.08 285.86" stroke="#303030" stroke-width="1.00" fill="none"/>
<line x1="521.62" y1="290.61" x2="538.36" y2="290.61" stroke="#288f28" stroke-width="0.8"/>
<line x1="538.36" y1="290.61" x2="549.52" y2="301.77" stroke="#288f28" stroke-width="1"/>
<line x1="549.52" y1="201.33" x2="549.52" y2="329.67" stroke="#001aa0" stroke-width="1.35"/>
<polygon points="499.18,120.46 501.98,120.46 504.88,123.21 501.98,125.96 499.18,125.96" stroke="#9e9830" stroke-width="1.2" fill="none"/>
<path d="M488.60 120.62 L490.70 120.62 L491.96 121.87 L491.96 124.36 L490.70 125.61 L488.60 125.61 L488.60 120.62 M494.09 120.62 L497.11 120.62 L495.43 122.70 L496.27 122.70 L497.20 123.53 L497.20 124.78 L496.27 125.61 L494.93 125.61 L494.00 124.78" stroke="#9e9830" stroke-width="1.00" fill="none"/>
<line x1="504.88" y1="123.21" x2="510.46" y2="123.21" stroke="#288f28" stroke-width="0.8"/>
<line x1="510.45" y1="123.21" x2="513.82" y2="123.21" stroke="#b04040" stroke-width="1"/>
<line x1="529.42" y1="123.21" x2="532.79" y2="123.21" stroke="#b04040" stroke-width="1"/>
<rect x="513.82" y="119.86" width="15.6" height="6.7" stroke="#a83030" stroke-width="1.1" fill="none"/>
<path d="M514.62 103.90 L514.62 98.91 L516.97 98.91 L517.98 99.91 L517.98 100.41 L516.97 101.40 L514.62 101.40 M516.47 101.40 L517.98 103.90 M520.11 99.74 L520.95 98.91 L522.29 98.91 L523.13 99.74 L523.13 100.57 L519.94 103.90 L523.30 103.90 M528.28 98.91 L525.60 98.91 L525.34 101.24 L526.10 100.90 L527.61 100.90 L528.54 101.74 L528.54 103.07 L527.70 103.90 L526.18 103.90 L525.34 103.23" stroke="#36a0a0" stroke-width="1.00" fill="none"/>
<path d="M516.89 108.91 L514.62 112.32 L517.98 112.32 M517.14 110.82 L517.14 113.90 M519.94 108.91 L523.30 108.91 L521.03 113.90 M526.94 108.91 L528.03 109.32 L528.62 110.41 L528.62 112.40 L528.03 113.48 L526.94 113.90 L525.85 113.48 L525.26 112.40 L525.26 110.41 L525.85 109.32 L526.94 108.91" stroke="#36a0a0" stroke-width="1.00" fill="none"/>
<line x1="532.78" y1="123.21" x2="543.94" y2="123.21" stroke="#288f28" stroke-width="0.8"/>
<rect x="555.1" y="118.2" width="44.64" height="32.4" stroke="#8a1010" stroke-width="1.65" fill="#fff7c0"/>
<line x1="543.94" y1="123.21" x2="555.1" y2="123.21" stroke="#b04040" stroke-width="1"/>
<line x1="599.74" y1="123.21" x2="610.9" y2="123.21" stroke="#b04040" stroke-width="1"/>
<line x1="543.94" y1="145.53" x2="555.1" y2="145.53" stroke="#b04040" stroke-width="1"/>
<line x1="599.74" y1="145.53" x2="610.9" y2="145.53" stroke="#b04040" stroke-width="1"/>
<path d="M548.26 117.72 L549.52 116.72 L549.52 121.71 M548.09 121.71 L550.95 121.71" stroke="#bb4545" stroke-width="1.00" fill="none"/>
<path d="M548.01 139.87 L548.85 139.04 L550.19 139.04 L551.03 139.87 L551.03 140.70 L547.84 144.03 L551.20 144.03" stroke="#bb4545" stroke-width="1.00" fill="none"/>
<path d="M605.91 116.72 L603.64 120.13 L607.00 120.13 M606.16 118.63 L606.16 121.71" stroke="#bb4545" stroke-width="1.00" fill="none"/>
<path d="M603.81 139.04 L606.83 139.04 L605.15 141.12 L605.99 141.12 L606.92 141.95 L606.92 143.20 L605.99 144.03 L604.65 144.03 L603.72 143.20" stroke="#bb4545" stroke-width="1.00" fill="none"/>
<path d="M573.08 95.91 L573.08 99.90 L574.09 100.90 L575.43 100.90 L576.44 99.90 L576.44 95.91 M578.40 95.91 L581.76 95.91 L579.49 100.90" stroke="#36a0a0" stroke-width="1.00" fill="none"/>
<path d="M557.12 110.60 L558.80 105.61 L560.48 110.60 M557.68 108.94 L559.92 108.94 M564.12 105.61 L565.21 106.02 L565.80 107.11 L565.80 109.10 L565.21 110.18 L564.12 110.60 L563.03 110.18 L562.44 109.10 L562.44 107.11 L563.03 106.02 L564.12 105.61 M564.37 109.19 L565.97 111.02 M567.76 105.61 L569.44 108.10 L571.12 105.61 M569.44 108.10 L569.44 110.60 M573.25 106.44 L574.09 105.61 L575.43 105.61 L576.27 106.44 L576.27 107.27 L573.08 110.60 L576.44 110.60 M578.82 106.61 L580.08 105.61 L580.08 110.60 M578.65 110.60 L581.51 110.60 M585.40 105.61 L586.49 106.02 L587.08 107.11 L587.08 109.10 L586.49 110.18 L585.40 110.60 L584.31 110.18 L583.72 109.10 L583.72 107.11 L584.31 106.02 L585.40 105.61 M592.40 105.61 L589.04 105.61 L589.04 110.60 L592.40 110.60 M589.04 108.02 L591.39 108.02 M594.36 105.61 L594.36 110.60 M597.72 105.61 L597.72 110.60 M594.36 108.02 L597.72 108.02" stroke="#36a0a0" stroke-width="1.00" fill="none"/>
<polyline points="555.1,123.21 563.9,123.21 563.9,145.53 555.1,145.53" stroke="#8a1010" stroke-width="0.9" fill="none"/>
<polygon points="560.9,131.6 566.9,131.6 563.9,136.6" stroke="#8a1010" stroke-width="0.9" fill="none"/>
<line x1="560.9" y1="136.8" x2="566.9" y2="136.8" stroke="#8a1010" stroke-width="0.9"/>
<line x1="569.3" y1="132.3" x2="574.6" y2="132.3" stroke="#8a1010" stroke-width="0.9"/>
<polygon points="574.9,132.3 573.1,131.3 573.1,133.3" stroke="#8a1010" stroke-width="0.5" fill="#8a1010"/>
<line x1="569.3" y1="136" x2="574.6" y2="136" stroke="#8a1010" stroke-width="0.9"/>
<polygon points="574.9,136 573.1,135 573.1,137" stroke="#8a1010" stroke-width="0.5" fill="#8a1010"/>
<line x1="582" y1="124.7" x2="582" y2="131.3" stroke="#8a1010" stroke-width="0.9"/>
<line x1="582" y1="137" x2="582" y2="143.7" stroke="#8a1010" stroke-width="0.9"/>
<polyline points="584.2,124.7 587.1,124.7 587.1,122.9 599.74,122.9" stroke="#8a1010" stroke-width="0.9" fill="none"/>
<line x1="587.1" y1="124.7" x2="587.1" y2="128.3" stroke="#8a1010" stroke-width="0.9"/>
<line x1="584.2" y1="128.3" x2="587.1" y2="128.3" stroke="#8a1010" stroke-width="0.9"/>
<polyline points="584.2,131.7 589.7,131.7 589.7,137.4 584.2,137.4" stroke="#8a1010" stroke-width="0.9" fill="none"/>
<line x1="589.7" y1="134.3" x2="593.9" y2="134.3" stroke="#8a1010" stroke-width="0.9"/>
<line x1="584.2" y1="140.7" x2="587.1" y2="140.7" stroke="#8a1010" stroke-width="0.9"/>
<line x1="587.1" y1="140.7" x2="587.1" y2="144" stroke="#8a1010" stroke-width="0.9"/>
<polyline points="584.2,144 587.1,144 587.1,145.34 599.74,145.34" stroke="#8a1010" stroke-width="0.9" fill="none"/>
<line x1="593.9" y1="122.9" x2="593.9" y2="145.34" stroke="#8a1010" stroke-width="0.9"/>
<polygon points="592.2,130.9 595.6,130.9 593.9,128.4" stroke="#8a1010" stroke-width="0.5" fill="#8a1010"/>
<line x1="592.2" y1="128.2" x2="595.6" y2="128.2" stroke="#8a1010" stroke-width="0.8"/>
<polygon points="592.2,140.7 595.6,140.7 593.9,138.2" stroke="#8a1010" stroke-width="0.5" fill="#8a1010"/>
<line x1="592.2" y1="138" x2="595.6" y2="138" stroke="#8a1010" stroke-width="0.8"/>
<circle cx="584.2" cy="124.7" r="0.95" fill="#8a1010"/>
<circle cx="584.2" cy="128.3" r="0.95" fill="#8a1010"/>
<circle cx="584.2" cy="131.7" r="0.95" fill="#8a1010"/>
<circle cx="584.2" cy="137.4" r="0.95" fill="#8a1010"/>
<circle cx="584.2" cy="140.7" r="0.95" fill="#8a1010"/>
<circle cx="584.2" cy="144" r="0.95" fill="#8a1010"/>
<circle cx="593.9" cy="122.9" r="0.95" fill="#8a1010"/>
<circle cx="593.9" cy="134.3" r="0.95" fill="#8a1010"/>
<circle cx="593.9" cy="145.34" r="0.95" fill="#8a1010"/>
<polyline points="610.9,123.21 622.06,123.21 622.06,67.41" stroke="#288f28" stroke-width="0.8" fill="none"/>
<circle cx="622.06" cy="67.41" r="2.7" fill="#138a13"/>
<line x1="610.9" y1="145.53" x2="610.9" y2="156.69" stroke="#288f28" stroke-width="0.8"/>
<line x1="610.9" y1="156.68" x2="610.9" y2="160.05" stroke="#b04040" stroke-width="1"/>
<line x1="610.9" y1="175.65" x2="610.9" y2="179.02" stroke="#b04040" stroke-width="1"/>
<rect x="607.55" y="160.05" width="6.7" height="15.6" stroke="#a83030" stroke-width="1.1" fill="none"/>
<path d="M618.90 164.70 L618.90 159.71 L621.25 159.71 L622.26 160.71 L622.26 161.21 L621.25 162.20 L618.90 162.20 M620.75 162.20 L622.26 164.70 M624.39 160.54 L625.23 159.71 L626.57 159.71 L627.41 160.54 L627.41 161.37 L624.22 164.70 L627.58 164.70 M629.54 159.71 L632.90 159.71 L630.63 164.70" stroke="#36a0a0" stroke-width="1.00" fill="none"/>
<path d="M619.07 170.11 L622.09 170.11 L620.41 172.19 L621.25 172.19 L622.18 173.02 L622.18 174.27 L621.25 175.10 L619.91 175.10 L618.98 174.27 M624.39 170.11 L627.41 170.11 L625.73 172.19 L626.57 172.19 L627.50 173.02 L627.50 174.27 L626.57 175.10 L625.23 175.10 L624.30 174.27 M629.54 170.11 L629.54 175.10 M629.54 173.60 L632.23 171.94 M630.55 172.94 L632.40 175.10" stroke="#36a0a0" stroke-width="1.00" fill="none"/>
<polyline points="610.9,179.01 610.9,240.39 622.06,240.39" stroke="#288f28" stroke-width="0.8" fill="none"/>
<polyline points="543.94,145.53 543.94,156.69 560.68,156.69 560.68,312.93" stroke="#288f28" stroke-width="0.8" fill="none"/>
<circle cx="560.68" cy="312.93" r="2.7" fill="#138a13"/>
<rect x="633.22" y="184.59" width="44.64" height="111.6" stroke="#a02525" stroke-width="0.9" fill="none"/>
<line x1="622.06" y1="240.39" x2="633.22" y2="240.39" stroke="#b04040" stroke-width="1"/>
<path d="M626.38 234.65 L627.64 233.65 L627.64 238.64 M626.21 238.64 L629.07 238.64" stroke="#bb4545" stroke-width="1.00" fill="none"/>
<path d="M638.22 242.79 L639.90 237.80 L641.58 242.79 M638.78 241.13 L641.02 241.13" stroke="#36a0a0" stroke-width="1.00" fill="none"/>
<path d="M651.20 162.51 L651.20 166.50 L652.21 167.50 L653.55 167.50 L654.56 166.50 L654.56 162.51 M657.53 164.92 L656.86 164.26 L656.86 163.17 L657.53 162.51 L658.87 162.51 L659.54 163.17 L659.54 164.26 L658.87 164.92 L657.53 164.92 L656.52 165.84 L656.52 166.67 L657.36 167.50 L659.04 167.50 L659.88 166.67 L659.88 165.84 L658.87 164.92" stroke="#36a0a0" stroke-width="1.00" fill="none"/>
<path d="M641.24 172.81 L641.24 177.80 M643.72 177.80 L643.72 172.81 L647.08 177.80 L647.08 172.81 M649.73 175.47 L652.75 175.47 M655.82 173.81 L657.08 172.81 L657.08 177.80 M655.65 177.80 L658.51 177.80 M661.41 173.64 L662.25 172.81 L663.59 172.81 L664.43 173.64 L664.43 174.47 L661.24 177.80 L664.60 177.80 M667.08 177.80 L668.76 172.81 L670.44 177.80 M667.64 176.14 L669.88 176.14" stroke="#36a0a0" stroke-width="1.00" fill="none"/>
<line x1="677.86" y1="190.17" x2="689.02" y2="190.17" stroke="#b04040" stroke-width="1"/>
<path d="M679.52 184.43 L680.78 183.43 L680.78 188.42 M679.35 188.42 L682.21 188.42 M684.59 184.26 L685.43 183.43 L686.77 183.43 L687.61 184.26 L687.61 185.09 L684.42 188.42 L687.78 188.42" stroke="#bb4545" stroke-width="1.00" fill="none"/>
<path d="M670.48 187.58 L671.57 187.99 L672.16 189.08 L672.16 191.07 L671.57 192.15 L670.48 192.57 L669.39 192.15 L668.80 191.07 L668.80 189.08 L669.39 187.99 L670.48 187.58" stroke="#36a0a0" stroke-width="1.00" fill="none"/>
<path d="M695.80 183.43 L695.80 188.42 M699.16 183.43 L695.80 186.76 M696.98 185.59 L699.16 188.42 M702.80 183.43 L703.89 183.84 L704.48 184.93 L704.48 186.92 L703.89 188.00 L702.80 188.42 L701.71 188.00 L701.12 186.92 L701.12 184.93 L701.71 183.84 L702.80 183.43" stroke="#303030" stroke-width="1.00" fill="none"/>
<line x1="689.02" y1="190.17" x2="705.76" y2="190.17" stroke="#288f28" stroke-width="0.8"/>
<line x1="705.76" y1="190.17" x2="716.92" y2="201.33" stroke="#288f28" stroke-width="1"/>
<line x1="677.86" y1="201.33" x2="689.02" y2="201.33" stroke="#b04040" stroke-width="1"/>
<path d="M681.93 194.59 L684.95 194.59 L683.27 196.67 L684.11 196.67 L685.04 197.50 L685.04 198.75 L684.11 199.58 L682.77 199.58 L681.84 198.75" stroke="#bb4545" stroke-width="1.00" fill="none"/>
<path d="M669.22 199.74 L670.48 198.74 L670.48 203.73 M669.05 203.73 L671.91 203.73" stroke="#36a0a0" stroke-width="1.00" fill="none"/>
<path d="M695.80 194.59 L695.80 199.58 M699.16 194.59 L695.80 197.92 M696.98 196.75 L699.16 199.58 M701.54 195.59 L702.80 194.59 L702.80 199.58 M701.37 199.58 L704.23 199.58" stroke="#303030" stroke-width="1.00" fill="none"/>
<line x1="689.02" y1="201.33" x2="705.76" y2="201.33" stroke="#288f28" stroke-width="0.8"/>
<line x1="705.76" y1="201.33" x2="716.92" y2="212.49" stroke="#288f28" stroke-width="1"/>
<line x1="677.86" y1="212.49" x2="689.02" y2="212.49" stroke="#b04040" stroke-width="1"/>
<path d="M684.03 205.75 L681.76 209.16 L685.12 209.16 M684.28 207.66 L684.28 210.74" stroke="#bb4545" stroke-width="1.00" fill="none"/>
<path d="M668.97 210.73 L669.81 209.90 L671.15 209.90 L671.99 210.73 L671.99 211.56 L668.80 214.89 L672.16 214.89" stroke="#36a0a0" stroke-width="1.00" fill="none"/>
<path d="M695.80 205.75 L695.80 210.74 M699.16 205.75 L695.80 209.08 M696.98 207.91 L699.16 210.74 M701.29 206.58 L702.13 205.75 L703.47 205.75 L704.31 206.58 L704.31 207.41 L701.12 210.74 L704.48 210.74" stroke="#303030" stroke-width="1.00" fill="none"/>
<line x1="689.02" y1="212.49" x2="705.76" y2="212.49" stroke="#288f28" stroke-width="0.8"/>
<line x1="705.76" y1="212.49" x2="716.92" y2="223.65" stroke="#288f28" stroke-width="1"/>
<line x1="677.86" y1="223.65" x2="689.02" y2="223.65" stroke="#b04040" stroke-width="1"/>
<path d="M684.78 216.91 L682.10 216.91 L681.84 219.24 L682.60 218.90 L684.11 218.90 L685.04 219.74 L685.04 221.07 L684.20 221.90 L682.68 221.90 L681.84 221.23" stroke="#bb4545" stroke-width="1.00" fill="none"/>
<path d="M668.97 221.06 L671.99 221.06 L670.31 223.14 L671.15 223.14 L672.08 223.97 L672.08 225.22 L671.15 226.05 L669.81 226.05 L668.88 225.22" stroke="#36a0a0" stroke-width="1.00" fill="none"/>
<path d="M695.80 216.91 L695.80 221.90 M699.16 216.91 L695.80 220.24 M696.98 219.07 L699.16 221.90 M701.29 216.91 L704.31 216.91 L702.63 218.99 L703.47 218.99 L704.40 219.82 L704.40 221.07 L703.47 221.90 L702.13 221.90 L701.20 221.07" stroke="#303030" stroke-width="1.00" fill="none"/>
<line x1="689.02" y1="223.65" x2="705.76" y2="223.65" stroke="#288f28" stroke-width="0.8"/>
<line x1="705.76" y1="223.65" x2="716.92" y2="234.81" stroke="#288f28" stroke-width="1"/>
<line x1="677.86" y1="234.81" x2="689.02" y2="234.81" stroke="#b04040" stroke-width="1"/>
<path d="M684.62 228.07 L683.44 228.07 L682.26 229.07 L681.76 230.56 L681.76 232.06 L682.77 233.06 L684.11 233.06 L685.12 232.06 L685.12 231.06 L684.11 230.23 L682.77 230.23 L681.76 231.06" stroke="#bb4545" stroke-width="1.00" fill="none"/>
<path d="M671.07 232.22 L668.80 235.63 L672.16 235.63 M671.32 234.13 L671.32 237.21" stroke="#36a0a0" stroke-width="1.00" fill="none"/>
<path d="M695.80 228.07 L695.80 233.06 M699.16 228.07 L695.80 231.40 M696.98 230.23 L699.16 233.06 M703.39 228.07 L701.12 231.48 L704.48 231.48 M703.64 229.98 L703.64 233.06" stroke="#303030" stroke-width="1.00" fill="none"/>
<line x1="689.02" y1="234.81" x2="705.76" y2="234.81" stroke="#288f28" stroke-width="0.8"/>
<line x1="705.76" y1="234.81" x2="716.92" y2="245.97" stroke="#288f28" stroke-width="1"/>
<line x1="677.86" y1="245.97" x2="689.02" y2="245.97" stroke="#b04040" stroke-width="1"/>
<path d="M681.76 239.23 L685.12 239.23 L682.85 244.22" stroke="#bb4545" stroke-width="1.00" fill="none"/>
<path d="M671.82 243.38 L669.14 243.38 L668.88 245.71 L669.64 245.37 L671.15 245.37 L672.08 246.21 L672.08 247.54 L671.24 248.37 L669.72 248.37 L668.88 247.70" stroke="#36a0a0" stroke-width="1.00" fill="none"/>
<path d="M695.80 239.23 L695.80 244.22 M699.16 239.23 L695.80 242.56 M696.98 241.39 L699.16 244.22 M704.14 239.23 L701.46 239.23 L701.20 241.56 L701.96 241.22 L703.47 241.22 L704.40 242.06 L704.40 243.39 L703.56 244.22 L702.04 244.22 L701.20 243.55" stroke="#303030" stroke-width="1.00" fill="none"/>
<line x1="689.02" y1="245.97" x2="705.76" y2="245.97" stroke="#288f28" stroke-width="0.8"/>
<line x1="705.76" y1="245.97" x2="716.92" y2="257.13" stroke="#288f28" stroke-width="1"/>
<line x1="677.86" y1="257.13" x2="689.02" y2="257.13" stroke="#b04040" stroke-width="1"/>
<path d="M682.77 252.80 L682.10 252.14 L682.10 251.05 L682.77 250.39 L684.11 250.39 L684.78 251.05 L684.78 252.14 L684.11 252.80 L682.77 252.80 L681.76 253.72 L681.76 254.55 L682.60 255.38 L684.28 255.38 L685.12 254.55 L685.12 253.72 L684.11 252.80" stroke="#bb4545" stroke-width="1.00" fill="none"/>
<path d="M671.66 254.54 L670.48 254.54 L669.30 255.54 L668.80 257.03 L668.80 258.53 L669.81 259.53 L671.15 259.53 L672.16 258.53 L672.16 257.53 L671.15 256.70 L669.81 256.70 L668.80 257.53" stroke="#36a0a0" stroke-width="1.00" fill="none"/>
<path d="M695.80 250.39 L695.80 255.38 M699.16 250.39 L695.80 253.72 M696.98 252.55 L699.16 255.38 M703.98 250.39 L702.80 250.39 L701.62 251.39 L701.12 252.88 L701.12 254.38 L702.13 255.38 L703.47 255.38 L704.48 254.38 L704.48 253.38 L703.47 252.55 L702.13 252.55 L701.12 253.38" stroke="#303030" stroke-width="1.00" fill="none"/>
<line x1="689.02" y1="257.13" x2="705.76" y2="257.13" stroke="#288f28" stroke-width="0.8"/>
<line x1="705.76" y1="257.13" x2="716.92" y2="268.29" stroke="#288f28" stroke-width="1"/>
<line x1="677.86" y1="268.29" x2="689.02" y2="268.29" stroke="#b04040" stroke-width="1"/>
<path d="M682.26 266.54 L683.44 266.54 L684.62 265.54 L685.12 264.04 L685.12 262.55 L684.11 261.55 L682.77 261.55 L681.76 262.55 L681.76 263.54 L682.77 264.38 L684.11 264.38 L685.12 263.54" stroke="#bb4545" stroke-width="1.00" fill="none"/>
<path d="M668.80 265.70 L672.16 265.70 L669.89 270.69" stroke="#36a0a0" stroke-width="1.00" fill="none"/>
<path d="M695.80 261.55 L695.80 266.54 M699.16 261.55 L695.80 264.88 M696.98 263.71 L699.16 266.54 M701.12 261.55 L704.48 261.55 L702.21 266.54" stroke="#303030" stroke-width="1.00" fill="none"/>
<line x1="689.02" y1="268.29" x2="705.76" y2="268.29" stroke="#288f28" stroke-width="0.8"/>
<line x1="705.76" y1="268.29" x2="716.92" y2="279.45" stroke="#288f28" stroke-width="1"/>
<line x1="677.86" y1="279.45" x2="689.02" y2="279.45" stroke="#b04040" stroke-width="1"/>
<path d="M679.52 273.71 L680.78 272.71 L680.78 277.70 M679.35 277.70 L682.21 277.70 M686.10 272.71 L687.19 273.12 L687.78 274.21 L687.78 276.20 L687.19 277.28 L686.10 277.70 L685.01 277.28 L684.42 276.20 L684.42 274.21 L685.01 273.12 L686.10 272.71" stroke="#bb4545" stroke-width="1.00" fill="none"/>
<path d="M669.81 279.27 L669.14 278.61 L669.14 277.52 L669.81 276.86 L671.15 276.86 L671.82 277.52 L671.82 278.61 L671.15 279.27 L669.81 279.27 L668.80 280.19 L668.80 281.02 L669.64 281.85 L671.32 281.85 L672.16 281.02 L672.16 280.19 L671.15 279.27" stroke="#36a0a0" stroke-width="1.00" fill="none"/>
<path d="M695.80 272.71 L695.80 277.70 M699.16 272.71 L695.80 276.04 M696.98 274.87 L699.16 277.70 M702.13 275.12 L701.46 274.46 L701.46 273.37 L702.13 272.71 L703.47 272.71 L704.14 273.37 L704.14 274.46 L703.47 275.12 L702.13 275.12 L701.12 276.04 L701.12 276.87 L701.96 277.70 L703.64 277.70 L704.48 276.87 L704.48 276.04 L703.47 275.12" stroke="#303030" stroke-width="1.00" fill="none"/>
<line x1="689.02" y1="279.45" x2="705.76" y2="279.45" stroke="#288f28" stroke-width="0.8"/>
<line x1="705.76" y1="279.45" x2="716.92" y2="290.61" stroke="#288f28" stroke-width="1"/>
<line x1="677.86" y1="290.61" x2="689.02" y2="290.61" stroke="#b04040" stroke-width="1"/>
<path d="M679.52 284.87 L680.78 283.87 L680.78 288.86 M679.35 288.86 L682.21 288.86 M684.84 284.87 L686.10 283.87 L686.10 288.86 M684.67 288.86 L687.53 288.86" stroke="#bb4545" stroke-width="1.00" fill="none"/>
<path d="M669.30 293.01 L670.48 293.01 L671.66 292.01 L672.16 290.51 L672.16 289.02 L671.15 288.02 L669.81 288.02 L668.80 289.02 L668.80 290.01 L669.81 290.85 L671.15 290.85 L672.16 290.01" stroke="#36a0a0" stroke-width="1.00" fill="none"/>
<path d="M695.80 283.87 L695.80 288.86 M699.16 283.87 L695.80 287.20 M696.98 286.03 L699.16 288.86 M701.62 288.86 L702.80 288.86 L703.98 287.86 L704.48 286.36 L704.48 284.87 L703.47 283.87 L702.13 283.87 L701.12 284.87 L701.12 285.86 L702.13 286.70 L703.47 286.70 L704.48 285.86" stroke="#303030" stroke-width="1.00" fill="none"/>
<line x1="689.02" y1="290.61" x2="705.76" y2="290.61" stroke="#288f28" stroke-width="0.8"/>
<line x1="705.76" y1="290.61" x2="716.92" y2="301.77" stroke="#288f28" stroke-width="1"/>
<line x1="716.92" y1="201.33" x2="716.92" y2="329.67" stroke="#001aa0" stroke-width="1.35"/>
<line x1="164.5" y1="329.67" x2="640" y2="329.67" stroke="#001aa0" stroke-width="1.35"/>
<line x1="153.34" y1="340.83" x2="164.5" y2="329.67" stroke="#288f28" stroke-width="1"/>
<path d="M143.36 334.54 L143.36 339.53 M146.72 334.54 L143.36 337.87 M144.54 336.70 L146.72 339.53 M150.36 334.54 L151.45 334.95 L152.04 336.04 L152.04 338.03 L151.45 339.11 L150.36 339.53 L149.27 339.11 L148.68 338.03 L148.68 336.04 L149.27 334.95 L150.36 334.54" stroke="#303030" stroke-width="1.00" fill="none"/>
<line x1="242.62" y1="340.83" x2="253.78" y2="329.67" stroke="#288f28" stroke-width="1"/>
<path d="M232.64 334.54 L232.64 339.53 M236.00 334.54 L232.64 337.87 M233.82 336.70 L236.00 339.53 M238.38 335.54 L239.64 334.54 L239.64 339.53 M238.21 339.53 L241.07 339.53" stroke="#303030" stroke-width="1.00" fill="none"/>
<line x1="242.62" y1="340.83" x2="242.62" y2="480" stroke="#288f28" stroke-width="0.8"/>
<line x1="354.22" y1="340.83" x2="365.38" y2="329.67" stroke="#288f28" stroke-width="1"/>
<path d="M344.24 334.54 L344.24 339.53 M347.60 334.54 L344.24 337.87 M345.42 336.70 L347.60 339.53 M349.73 335.37 L350.57 334.54 L351.91 334.54 L352.75 335.37 L352.75 336.20 L349.56 339.53 L352.92 339.53" stroke="#303030" stroke-width="1.00" fill="none"/>
<line x1="443.5" y1="340.83" x2="454.66" y2="329.67" stroke="#288f28" stroke-width="1"/>
<path d="M433.52 334.54 L433.52 339.53 M436.88 334.54 L433.52 337.87 M434.70 336.70 L436.88 339.53 M439.01 334.54 L442.03 334.54 L440.35 336.62 L441.19 336.62 L442.12 337.45 L442.12 338.70 L441.19 339.53 L439.85 339.53 L438.92 338.70" stroke="#303030" stroke-width="1.00" fill="none"/>
<line x1="443.5" y1="340.83" x2="443.5" y2="480" stroke="#288f28" stroke-width="0.8"/>
<line x1="555.1" y1="340.83" x2="566.26" y2="329.67" stroke="#288f28" stroke-width="1"/>
<path d="M545.12 334.54 L545.12 339.53 M548.48 334.54 L545.12 337.87 M546.30 336.70 L548.48 339.53 M552.71 334.54 L550.44 337.95 L553.80 337.95 M552.96 336.45 L552.96 339.53" stroke="#303030" stroke-width="1.00" fill="none"/>
<line x1="644.38" y1="340.83" x2="655.54" y2="329.67" stroke="#288f28" stroke-width="1"/>
<path d="M634.40 334.54 L634.40 339.53 M637.76 334.54 L634.40 337.87 M635.58 336.70 L637.76 339.53 M642.74 334.54 L640.06 334.54 L639.80 336.87 L640.56 336.53 L642.07 336.53 L643.00 337.37 L643.00 338.70 L642.16 339.53 L640.64 339.53 L639.80 338.86" stroke="#303030" stroke-width="1.00" fill="none"/>
<line x1="644.38" y1="340.83" x2="644.38" y2="480" stroke="#288f28" stroke-width="0.8"/>
<polygon points="63.94,405.04 66.74,405.04 69.64,407.79 66.74,410.54 63.94,410.54" stroke="#9e9830" stroke-width="1.2" fill="none"/>
<path d="M53.70 405.20 L53.70 410.19 M57.06 405.20 L53.70 408.53 M54.87 407.36 L57.06 410.19 M59.52 407.03 L60.02 406.86 L61.37 406.86 L62.04 407.44 L62.04 410.19 M62.04 409.61 L61.37 410.19 L59.86 410.19 L59.18 409.61 L59.18 409.11 L59.86 408.61 L62.04 408.61" stroke="#9e9830" stroke-width="1.00" fill="none"/>
<line x1="69.64" y1="407.79" x2="80.8" y2="407.79" stroke="#288f28" stroke-width="0.8"/>
<line x1="80.79" y1="407.79" x2="84.16" y2="407.79" stroke="#b04040" stroke-width="1"/>
<line x1="99.76" y1="407.79" x2="103.13" y2="407.79" stroke="#b04040" stroke-width="1"/>
<rect x="84.16" y="404.44" width="15.6" height="6.7" stroke="#a83030" stroke-width="1.1" fill="none"/>
<path d="M84.96 388.20 L84.96 383.21 L87.31 383.21 L88.32 384.21 L88.32 384.71 L87.31 385.70 L84.96 385.70 M86.81 385.70 L88.32 388.20 M90.70 384.21 L91.96 383.21 L91.96 388.20 M90.53 388.20 L93.39 388.20 M98.46 383.21 L97.28 383.21 L96.10 384.21 L95.60 385.70 L95.60 387.20 L96.61 388.20 L97.95 388.20 L98.96 387.20 L98.96 386.20 L97.95 385.37 L96.61 385.37 L95.60 386.20" stroke="#36a0a0" stroke-width="1.00" fill="none"/>
<path d="M84.15 393.51 L87.17 393.51 L85.49 395.59 L86.33 395.59 L87.26 396.42 L87.26 397.67 L86.33 398.50 L84.99 398.50 L84.06 397.67 M89.55 398.38 L89.55 398.50 M91.93 393.51 L94.96 393.51 L93.28 395.59 L94.12 395.59 L95.04 396.42 L95.04 397.67 L94.12 398.50 L92.77 398.50 L91.85 397.67 M97.08 393.51 L97.08 398.50 M97.08 397.00 L99.77 395.34 M98.09 396.34 L99.94 398.50" stroke="#36a0a0" stroke-width="1.00" fill="none"/>
<line x1="103.12" y1="407.79" x2="119.86" y2="407.79" stroke="#288f28" stroke-width="0.8"/>
<line x1="119.86" y1="407.79" x2="144.98" y2="407.79" stroke="#b04040" stroke-width="1"/>
<circle cx="147.76" cy="407.79" r="12.3" stroke="#a83030" stroke-width="1.25" fill="none"/>
<line x1="144.98" y1="399.39" x2="144.98" y2="416.19" stroke="#8a1010" stroke-width="2.2"/>
<line x1="144.98" y1="404.99" x2="153.35" y2="396.62" stroke="#a83030" stroke-width="0.9"/>
<line x1="144.98" y1="410.59" x2="153.35" y2="418.96" stroke="#a83030" stroke-width="0.9"/>
<polygon points="152.18,417.79 149.98,413.39 147.78,415.59" stroke="#8a1010" stroke-width="0.7" fill="#8a1010"/>
<line x1="153.35" y1="396.62" x2="153.35" y2="385.47" stroke="#b04040" stroke-width="1"/>
<line x1="153.35" y1="418.96" x2="153.35" y2="430.11" stroke="#b04040" stroke-width="1"/>
<path d="M131.07 409.44 L131.91 408.61 L133.25 408.61 L134.09 409.44 L134.09 410.27 L130.90 413.60 L134.26 413.60" stroke="#bb4545" stroke-width="1.00" fill="none"/>
<g transform="rotate(-90 157.18 390.89)"><path d="M155.67 388.30 L158.69 388.30 L157.01 390.38 L157.85 390.38 L158.78 391.21 L158.78 392.46 L157.85 393.29 L156.51 393.29 L155.58 392.46" stroke="#bb4545" stroke-width="1.00" fill="none"/></g>
<g transform="rotate(-90 157.18 425.49)"><path d="M155.92 423.90 L157.18 422.90 L157.18 427.89 M155.75 427.89 L158.61 427.89" stroke="#bb4545" stroke-width="1.00" fill="none"/></g>
<path d="M166.36 400.41 L167.45 400.82 L168.04 401.91 L168.04 403.90 L167.45 404.98 L166.36 405.40 L165.27 404.98 L164.68 403.90 L164.68 401.91 L165.27 400.82 L166.36 400.41 M166.61 403.99 L168.21 405.82 M172.27 400.41 L170.00 403.82 L173.36 403.82 M172.52 402.32 L172.52 405.40" stroke="#36a0a0" stroke-width="1.00" fill="none"/>
<path d="M164.68 415.10 L164.68 410.11 L166.36 413.27 L168.04 410.11 L168.04 415.10 M170.00 415.10 L170.00 410.11 L172.35 410.11 L173.36 411.11 L173.36 411.77 L172.35 412.77 L170.00 412.77 M178.68 410.77 L178.01 410.11 L176.08 410.11 L175.32 410.86 L175.32 411.77 L176.08 412.44 L177.92 412.77 L178.68 413.44 L178.68 414.35 L177.92 415.10 L175.99 415.10 L175.32 414.43 M180.64 415.10 L182.32 410.11 L184.00 415.10 M181.20 413.44 L183.44 413.44 M188.23 410.11 L185.96 413.52 L189.32 413.52 M188.48 412.02 L188.48 415.10 M191.45 410.94 L192.29 410.11 L193.63 410.11 L194.47 410.94 L194.47 411.77 L191.28 415.10 L194.64 415.10" stroke="#36a0a0" stroke-width="1.00" fill="none"/>
<line x1="153.34" y1="340.83" x2="153.34" y2="385.47" stroke="#288f28" stroke-width="0.8"/>
<polyline points="153.34,379.89 214.72,379.89 214.72,391.05" stroke="#288f28" stroke-width="0.8" fill="none"/>
<polyline points="214.72,424.53 214.72,435.69 153.34,435.69" stroke="#288f28" stroke-width="0.8" fill="none"/>
<line x1="153.34" y1="430.11" x2="153.34" y2="446.85" stroke="#288f28" stroke-width="0.8"/>
<polyline points="153.34,446.85 136.6,446.85 136.6,480" stroke="#288f28" stroke-width="0.8" fill="none"/>
<circle cx="153.34" cy="379.89" r="2.7" fill="#138a13"/>
<circle cx="153.34" cy="435.69" r="2.7" fill="#138a13"/>
<line x1="214.72" y1="391.05" x2="214.72" y2="402.2" stroke="#b04040" stroke-width="1"/>
<line x1="214.72" y1="413.37" x2="214.72" y2="424.53" stroke="#b04040" stroke-width="1"/>
<polygon points="209.13,413.37 220.31,413.37 214.72,402.2" stroke="#8a1010" stroke-width="1.3" fill="none"/>
<polyline points="209.13,404.19 209.13,402.2 220.31,402.2 220.31,400.19" stroke="#8a1010" stroke-width="1.3" fill="none"/>
<path d="M225.27 400.11 L227.37 400.11 L228.63 401.36 L228.63 403.85 L227.37 405.10 L225.27 405.10 L225.27 400.11 M230.76 400.94 L231.60 400.11 L232.94 400.11 L233.78 400.94 L233.78 401.77 L230.59 405.10 L233.95 405.10" stroke="#36a0a0" stroke-width="1.00" fill="none"/>
<path d="M225.27 410.11 L228.63 410.11 L226.36 415.10 M233.61 410.11 L230.93 410.11 L230.67 412.44 L231.43 412.10 L232.94 412.10 L233.87 412.94 L233.87 414.27 L233.03 415.10 L231.51 415.10 L230.67 414.43 M235.91 410.11 L237.59 415.10 L239.27 410.11" stroke="#36a0a0" stroke-width="1.00" fill="none"/>
<polygon points="264.82,405.04 267.62,405.04 270.52,407.79 267.62,410.54 264.82,410.54" stroke="#9e9830" stroke-width="1.2" fill="none"/>
<path d="M254.58 405.20 L254.58 410.19 M257.94 405.20 L254.58 408.53 M255.75 407.36 L257.94 410.19 M262.92 407.36 L262.25 406.86 L260.82 406.86 L260.06 407.53 L260.06 409.52 L260.82 410.19 L262.25 410.19 L262.92 409.69" stroke="#9e9830" stroke-width="1.00" fill="none"/>
<line x1="270.52" y1="407.79" x2="281.68" y2="407.79" stroke="#288f28" stroke-width="0.8"/>
<line x1="281.67" y1="407.79" x2="285.04" y2="407.79" stroke="#b04040" stroke-width="1"/>
<line x1="300.64" y1="407.79" x2="304.01" y2="407.79" stroke="#b04040" stroke-width="1"/>
<rect x="285.04" y="404.44" width="15.6" height="6.7" stroke="#a83030" stroke-width="1.1" fill="none"/>
<path d="M285.84 388.20 L285.84 383.21 L288.19 383.21 L289.20 384.21 L289.20 384.71 L288.19 385.70 L285.84 385.70 M287.69 385.70 L289.20 388.20 M291.33 384.04 L292.17 383.21 L293.51 383.21 L294.35 384.04 L294.35 384.87 L291.16 388.20 L294.52 388.20 M298.16 383.21 L299.25 383.62 L299.84 384.71 L299.84 386.70 L299.25 387.78 L298.16 388.20 L297.07 387.78 L296.48 386.70 L296.48 384.71 L297.07 383.62 L298.16 383.21" stroke="#36a0a0" stroke-width="1.00" fill="none"/>
<path d="M285.03 393.51 L288.05 393.51 L286.37 395.59 L287.21 395.59 L288.14 396.42 L288.14 397.67 L287.21 398.50 L285.87 398.50 L284.94 397.67 M290.43 398.38 L290.43 398.50 M292.81 393.51 L295.84 393.51 L294.16 395.59 L295.00 395.59 L295.92 396.42 L295.92 397.67 L295.00 398.50 L293.65 398.50 L292.73 397.67 M297.96 393.51 L297.96 398.50 M297.96 397.00 L300.65 395.34 M298.97 396.34 L300.82 398.50" stroke="#36a0a0" stroke-width="1.00" fill="none"/>
<line x1="304" y1="407.79" x2="320.74" y2="407.79" stroke="#288f28" stroke-width="0.8"/>
<line x1="320.74" y1="407.79" x2="345.86" y2="407.79" stroke="#b04040" stroke-width="1"/>
<circle cx="348.64" cy="407.79" r="12.3" stroke="#a83030" stroke-width="1.25" fill="none"/>
<line x1="345.86" y1="399.39" x2="345.86" y2="416.19" stroke="#8a1010" stroke-width="2.2"/>
<line x1="345.86" y1="404.99" x2="354.23" y2="396.62" stroke="#a83030" stroke-width="0.9"/>
<line x1="345.86" y1="410.59" x2="354.23" y2="418.96" stroke="#a83030" stroke-width="0.9"/>
<polygon points="353.06,417.79 350.86,413.39 348.66,415.59" stroke="#8a1010" stroke-width="0.7" fill="#8a1010"/>
<line x1="354.23" y1="396.62" x2="354.23" y2="385.47" stroke="#b04040" stroke-width="1"/>
<line x1="354.23" y1="418.96" x2="354.23" y2="430.11" stroke="#b04040" stroke-width="1"/>
<path d="M331.95 409.44 L332.79 408.61 L334.13 408.61 L334.97 409.44 L334.97 410.27 L331.78 413.60 L335.14 413.60" stroke="#bb4545" stroke-width="1.00" fill="none"/>
<g transform="rotate(-90 358.06 390.89)"><path d="M356.55 388.30 L359.57 388.30 L357.89 390.38 L358.73 390.38 L359.66 391.21 L359.66 392.46 L358.73 393.29 L357.39 393.29 L356.46 392.46" stroke="#bb4545" stroke-width="1.00" fill="none"/></g>
<g transform="rotate(-90 358.06 425.49)"><path d="M356.80 423.90 L358.06 422.90 L358.06 427.89 M356.63 427.89 L359.49 427.89" stroke="#bb4545" stroke-width="1.00" fill="none"/></g>
<path d="M367.24 400.41 L368.33 400.82 L368.92 401.91 L368.92 403.90 L368.33 404.98 L367.24 405.40 L366.15 404.98 L365.56 403.90 L365.56 401.91 L366.15 400.82 L367.24 400.41 M367.49 403.99 L369.09 405.82 M373.74 400.41 L372.56 400.41 L371.38 401.41 L370.88 402.90 L370.88 404.40 L371.89 405.40 L373.23 405.40 L374.24 404.40 L374.24 403.40 L373.23 402.57 L371.89 402.57 L370.88 403.40" stroke="#36a0a0" stroke-width="1.00" fill="none"/>
<path d="M365.56 415.10 L365.56 410.11 L367.24 413.27 L368.92 410.11 L368.92 415.10 M370.88 415.10 L370.88 410.11 L373.23 410.11 L374.24 411.11 L374.24 411.77 L373.23 412.77 L370.88 412.77 M379.56 410.77 L378.89 410.11 L376.96 410.11 L376.20 410.86 L376.20 411.77 L376.96 412.44 L378.80 412.77 L379.56 413.44 L379.56 414.35 L378.80 415.10 L376.87 415.10 L376.20 414.43 M381.52 415.10 L383.20 410.11 L384.88 415.10 M382.08 413.44 L384.32 413.44 M389.11 410.11 L386.84 413.52 L390.20 413.52 M389.36 412.02 L389.36 415.10 M392.33 410.94 L393.17 410.11 L394.51 410.11 L395.35 410.94 L395.35 411.77 L392.16 415.10 L395.52 415.10" stroke="#36a0a0" stroke-width="1.00" fill="none"/>
<line x1="354.22" y1="340.83" x2="354.22" y2="385.47" stroke="#288f28" stroke-width="0.8"/>
<polyline points="354.22,379.89 415.6,379.89 415.6,391.05" stroke="#288f28" stroke-width="0.8" fill="none"/>
<polyline points="415.6,424.53 415.6,435.69 354.22,435.69" stroke="#288f28" stroke-width="0.8" fill="none"/>
<line x1="354.22" y1="430.11" x2="354.22" y2="446.85" stroke="#288f28" stroke-width="0.8"/>
<polyline points="354.22,446.85 337.48,446.85 337.48,480" stroke="#288f28" stroke-width="0.8" fill="none"/>
<circle cx="354.22" cy="379.89" r="2.7" fill="#138a13"/>
<circle cx="354.22" cy="435.69" r="2.7" fill="#138a13"/>
<line x1="415.6" y1="391.05" x2="415.6" y2="402.2" stroke="#b04040" stroke-width="1"/>
<line x1="415.6" y1="413.37" x2="415.6" y2="424.53" stroke="#b04040" stroke-width="1"/>
<polygon points="410.02,413.37 421.19,413.37 415.6,402.2" stroke="#8a1010" stroke-width="1.3" fill="none"/>
<polyline points="410.02,404.19 410.02,402.2 421.19,402.2 421.19,400.19" stroke="#8a1010" stroke-width="1.3" fill="none"/>
<path d="M426.15 400.11 L428.25 400.11 L429.51 401.36 L429.51 403.85 L428.25 405.10 L426.15 405.10 L426.15 400.11 M433.74 400.11 L431.47 403.52 L434.83 403.52 M433.99 402.02 L433.99 405.10" stroke="#36a0a0" stroke-width="1.00" fill="none"/>
<path d="M426.15 410.11 L429.51 410.11 L427.24 415.10 M434.49 410.11 L431.81 410.11 L431.55 412.44 L432.31 412.10 L433.82 412.10 L434.75 412.94 L434.75 414.27 L433.91 415.10 L432.39 415.10 L431.55 414.43 M436.79 410.11 L438.47 415.10 L440.15 410.11" stroke="#36a0a0" stroke-width="1.00" fill="none"/>
<polygon points="465.7,405.04 468.5,405.04 471.4,407.79 468.5,410.54 465.7,410.54" stroke="#9e9830" stroke-width="1.2" fill="none"/>
<path d="M455.37 405.20 L455.37 410.19 M458.73 405.20 L455.37 408.53 M456.55 407.36 L458.73 410.19 M460.86 408.53 L463.80 408.53 L463.80 407.69 L463.04 406.86 L461.62 406.86 L460.86 407.53 L460.86 409.52 L461.62 410.19 L463.04 410.19 L463.72 409.69" stroke="#9e9830" stroke-width="1.00" fill="none"/>
<line x1="471.4" y1="407.79" x2="482.56" y2="407.79" stroke="#288f28" stroke-width="0.8"/>
<line x1="482.55" y1="407.79" x2="485.92" y2="407.79" stroke="#b04040" stroke-width="1"/>
<line x1="501.52" y1="407.79" x2="504.89" y2="407.79" stroke="#b04040" stroke-width="1"/>
<rect x="485.92" y="404.44" width="15.6" height="6.7" stroke="#a83030" stroke-width="1.1" fill="none"/>
<path d="M486.72 388.20 L486.72 383.21 L489.07 383.21 L490.08 384.21 L490.08 384.71 L489.07 385.70 L486.72 385.70 M488.57 385.70 L490.08 388.20 M492.21 384.04 L493.05 383.21 L494.39 383.21 L495.23 384.04 L495.23 384.87 L492.04 388.20 L495.40 388.20 M499.63 383.21 L497.36 386.62 L500.72 386.62 M499.88 385.12 L499.88 388.20" stroke="#36a0a0" stroke-width="1.00" fill="none"/>
<path d="M485.91 393.51 L488.93 393.51 L487.25 395.59 L488.09 395.59 L489.02 396.42 L489.02 397.67 L488.09 398.50 L486.75 398.50 L485.82 397.67 M491.31 398.38 L491.31 398.50 M493.69 393.51 L496.72 393.51 L495.04 395.59 L495.88 395.59 L496.80 396.42 L496.80 397.67 L495.88 398.50 L494.53 398.50 L493.61 397.67 M498.84 393.51 L498.84 398.50 M498.84 397.00 L501.53 395.34 M499.85 396.34 L501.70 398.50" stroke="#36a0a0" stroke-width="1.00" fill="none"/>
<line x1="504.88" y1="407.79" x2="521.62" y2="407.79" stroke="#288f28" stroke-width="0.8"/>
<line x1="521.62" y1="407.79" x2="546.74" y2="407.79" stroke="#b04040" stroke-width="1"/>
<circle cx="549.52" cy="407.79" r="12.3" stroke="#a83030" stroke-width="1.25" fill="none"/>
<line x1="546.74" y1="399.39" x2="546.74" y2="416.19" stroke="#8a1010" stroke-width="2.2"/>
<line x1="546.74" y1="404.99" x2="555.11" y2="396.62" stroke="#a83030" stroke-width="0.9"/>
<line x1="546.74" y1="410.59" x2="555.11" y2="418.96" stroke="#a83030" stroke-width="0.9"/>
<polygon points="553.94,417.79 551.74,413.39 549.54,415.59" stroke="#8a1010" stroke-width="0.7" fill="#8a1010"/>
<line x1="555.11" y1="396.62" x2="555.11" y2="385.47" stroke="#b04040" stroke-width="1"/>
<line x1="555.11" y1="418.96" x2="555.11" y2="430.11" stroke="#b04040" stroke-width="1"/>
<path d="M532.83 409.44 L533.67 408.61 L535.01 408.61 L535.85 409.44 L535.85 410.27 L532.66 413.60 L536.02 413.60" stroke="#bb4545" stroke-width="1.00" fill="none"/>
<g transform="rotate(-90 558.94 390.89)"><path d="M557.43 388.30 L560.45 388.30 L558.77 390.38 L559.61 390.38 L560.54 391.21 L560.54 392.46 L559.61 393.29 L558.27 393.29 L557.34 392.46" stroke="#bb4545" stroke-width="1.00" fill="none"/></g>
<g transform="rotate(-90 558.94 425.49)"><path d="M557.68 423.90 L558.94 422.90 L558.94 427.89 M557.51 427.89 L560.37 427.89" stroke="#bb4545" stroke-width="1.00" fill="none"/></g>
<path d="M568.12 400.41 L569.21 400.82 L569.80 401.91 L569.80 403.90 L569.21 404.98 L568.12 405.40 L567.03 404.98 L566.44 403.90 L566.44 401.91 L567.03 400.82 L568.12 400.41 M568.37 403.99 L569.97 405.82 M572.77 402.82 L572.10 402.16 L572.10 401.07 L572.77 400.41 L574.11 400.41 L574.78 401.07 L574.78 402.16 L574.11 402.82 L572.77 402.82 L571.76 403.74 L571.76 404.57 L572.60 405.40 L574.28 405.40 L575.12 404.57 L575.12 403.74 L574.11 402.82" stroke="#36a0a0" stroke-width="1.00" fill="none"/>
<path d="M566.44 415.10 L566.44 410.11 L568.12 413.27 L569.80 410.11 L569.80 415.10 M571.76 415.10 L571.76 410.11 L574.11 410.11 L575.12 411.11 L575.12 411.77 L574.11 412.77 L571.76 412.77 M580.44 410.77 L579.77 410.11 L577.84 410.11 L577.08 410.86 L577.08 411.77 L577.84 412.44 L579.68 412.77 L580.44 413.44 L580.44 414.35 L579.68 415.10 L577.75 415.10 L577.08 414.43 M582.40 415.10 L584.08 410.11 L585.76 415.10 M582.96 413.44 L585.20 413.44 M589.99 410.11 L587.72 413.52 L591.08 413.52 M590.24 412.02 L590.24 415.10 M593.21 410.94 L594.05 410.11 L595.39 410.11 L596.23 410.94 L596.23 411.77 L593.04 415.10 L596.40 415.10" stroke="#36a0a0" stroke-width="1.00" fill="none"/>
<line x1="555.1" y1="340.83" x2="555.1" y2="385.47" stroke="#288f28" stroke-width="0.8"/>
<polyline points="555.1,379.89 616.48,379.89 616.48,391.05" stroke="#288f28" stroke-width="0.8" fill="none"/>
<polyline points="616.48,424.53 616.48,435.69 555.1,435.69" stroke="#288f28" stroke-width="0.8" fill="none"/>
<line x1="555.1" y1="430.11" x2="555.1" y2="446.85" stroke="#288f28" stroke-width="0.8"/>
<polyline points="555.1,446.85 538.36,446.85 538.36,480" stroke="#288f28" stroke-width="0.8" fill="none"/>
<circle cx="555.1" cy="379.89" r="2.7" fill="#138a13"/>
<circle cx="555.1" cy="435.69" r="2.7" fill="#138a13"/>
<line x1="616.48" y1="391.05" x2="616.48" y2="402.2" stroke="#b04040" stroke-width="1"/>
<line x1="616.48" y1="413.37" x2="616.48" y2="424.53" stroke="#b04040" stroke-width="1"/>
<polygon points="610.89,413.37 622.07,413.37 616.48,402.2" stroke="#8a1010" stroke-width="1.3" fill="none"/>
<polyline points="610.89,404.19 610.89,402.2 622.07,402.2 622.07,400.19" stroke="#8a1010" stroke-width="1.3" fill="none"/>
<path d="M627.03 400.11 L629.13 400.11 L630.39 401.36 L630.39 403.85 L629.13 405.10 L627.03 405.10 L627.03 400.11 M635.21 400.11 L634.03 400.11 L632.85 401.11 L632.35 402.60 L632.35 404.10 L633.36 405.10 L634.70 405.10 L635.71 404.10 L635.71 403.10 L634.70 402.27 L633.36 402.27 L632.35 403.10" stroke="#36a0a0" stroke-width="1.00" fill="none"/>
<path d="M627.03 410.11 L630.39 410.11 L628.12 415.10 M635.37 410.11 L632.69 410.11 L632.43 412.44 L633.19 412.10 L634.70 412.10 L635.63 412.94 L635.63 414.27 L634.79 415.10 L633.27 415.10 L632.43 414.43 M637.67 410.11 L639.35 415.10 L641.03 410.11" stroke="#36a0a0" stroke-width="1.00" fill="none"/>
</svg></body></html>
